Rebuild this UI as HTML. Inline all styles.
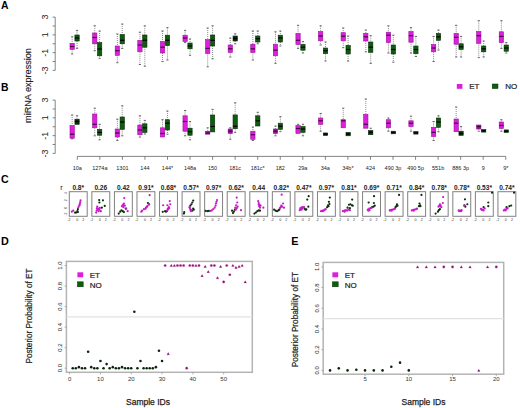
<!DOCTYPE html><html><head><meta charset="utf-8"><style>html,body{margin:0;padding:0;background:#fff;}svg{display:block;}body{overflow:hidden;width:520px;height:408px;}</style></head><body><svg width="520" height="408" viewBox="0 0 520 408" style="font-family:'Liberation Sans', sans-serif">
<rect width="520" height="408" fill="#fff"/>
<text x="0.9" y="8.95" font-size="10.4" font-weight="bold" fill="#000">A</text>
<text x="1.1" y="90.5" font-size="10.4" font-weight="bold" fill="#000">B</text>
<text x="1.0" y="182.8" font-size="10.6" font-weight="bold" fill="#000">C</text>
<text x="0.9" y="245.1" font-size="10.8" font-weight="bold" fill="#000">D</text>
<text x="291.2" y="245.1" font-size="10.8" font-weight="bold" fill="#000">E</text>
<text x="0" y="0" transform="translate(31,85.5) rotate(-90)" text-anchor="middle" font-size="9.1" fill="#222" stroke="#222" stroke-width="0.15">miRNA expression</text>
<line x1="55.2" y1="17.1" x2="55.2" y2="70.4" stroke="#666" stroke-width="0.8"/>
<line x1="52.6" y1="17.10" x2="55.2" y2="17.10" stroke="#666" stroke-width="0.8"/>
<line x1="52.6" y1="25.98" x2="55.2" y2="25.98" stroke="#666" stroke-width="0.8"/>
<line x1="52.6" y1="34.87" x2="55.2" y2="34.87" stroke="#666" stroke-width="0.8"/>
<line x1="52.6" y1="43.75" x2="55.2" y2="43.75" stroke="#666" stroke-width="0.8"/>
<line x1="52.6" y1="52.63" x2="55.2" y2="52.63" stroke="#666" stroke-width="0.8"/>
<line x1="52.6" y1="61.52" x2="55.2" y2="61.52" stroke="#666" stroke-width="0.8"/>
<line x1="52.6" y1="70.40" x2="55.2" y2="70.40" stroke="#666" stroke-width="0.8"/>
<text x="0" y="0" transform="translate(47.9,17.10) rotate(-90)" text-anchor="middle" font-size="9" fill="#222">3</text>
<text x="0" y="0" transform="translate(47.9,34.87) rotate(-90)" text-anchor="middle" font-size="9" fill="#222">1</text>
<text x="0" y="0" transform="translate(47.9,52.63) rotate(-90)" text-anchor="middle" font-size="9" fill="#222">-1</text>
<text x="0" y="0" transform="translate(47.9,70.40) rotate(-90)" text-anchor="middle" font-size="9" fill="#222">-3</text>
<line x1="55.2" y1="100.1" x2="55.2" y2="153.4" stroke="#666" stroke-width="0.8"/>
<line x1="52.6" y1="100.10" x2="55.2" y2="100.10" stroke="#666" stroke-width="0.8"/>
<line x1="52.6" y1="108.98" x2="55.2" y2="108.98" stroke="#666" stroke-width="0.8"/>
<line x1="52.6" y1="117.87" x2="55.2" y2="117.87" stroke="#666" stroke-width="0.8"/>
<line x1="52.6" y1="126.75" x2="55.2" y2="126.75" stroke="#666" stroke-width="0.8"/>
<line x1="52.6" y1="135.63" x2="55.2" y2="135.63" stroke="#666" stroke-width="0.8"/>
<line x1="52.6" y1="144.52" x2="55.2" y2="144.52" stroke="#666" stroke-width="0.8"/>
<line x1="52.6" y1="153.40" x2="55.2" y2="153.40" stroke="#666" stroke-width="0.8"/>
<text x="0" y="0" transform="translate(47.9,100.10) rotate(-90)" text-anchor="middle" font-size="9" fill="#222">3</text>
<text x="0" y="0" transform="translate(47.9,117.87) rotate(-90)" text-anchor="middle" font-size="9" fill="#222">1</text>
<text x="0" y="0" transform="translate(47.9,135.63) rotate(-90)" text-anchor="middle" font-size="9" fill="#222">-1</text>
<text x="0" y="0" transform="translate(47.9,153.40) rotate(-90)" text-anchor="middle" font-size="9" fill="#222">-3</text>
<line x1="72.15" y1="36.80" x2="72.15" y2="43.30" stroke="#5a5a5a" stroke-width="0.7" stroke-dasharray="1 1"/>
<line x1="71.05" y1="36.80" x2="73.25" y2="36.80" stroke="#5a5a5a" stroke-width="0.9"/>
<line x1="72.15" y1="49.50" x2="72.15" y2="54.00" stroke="#5a5a5a" stroke-width="0.7" stroke-dasharray="1 1"/>
<line x1="71.05" y1="54.00" x2="73.25" y2="54.00" stroke="#5a5a5a" stroke-width="0.9"/>
<rect x="70.00" y="43.30" width="4.30" height="6.20" fill="#DD1FDD" stroke="#9A139A" stroke-width="0.6"/>
<line x1="70.00" y1="46.50" x2="74.30" y2="46.50" stroke="#4a004a" stroke-width="1.2"/>
<line x1="77.05" y1="30.40" x2="77.05" y2="35.00" stroke="#5a5a5a" stroke-width="0.7" stroke-dasharray="1 1"/>
<line x1="75.95" y1="30.40" x2="78.15" y2="30.40" stroke="#5a5a5a" stroke-width="0.9"/>
<line x1="77.05" y1="41.00" x2="77.05" y2="48.40" stroke="#5a5a5a" stroke-width="0.7" stroke-dasharray="1 1"/>
<line x1="75.95" y1="48.40" x2="78.15" y2="48.40" stroke="#5a5a5a" stroke-width="0.9"/>
<rect x="74.90" y="35.00" width="4.30" height="6.00" fill="#0E5C0E" stroke="#0A2E0A" stroke-width="0.6"/>
<line x1="74.90" y1="38.00" x2="79.20" y2="38.00" stroke="#000" stroke-width="1.2"/>
<line x1="94.74" y1="25.80" x2="94.74" y2="33.00" stroke="#5a5a5a" stroke-width="0.7" stroke-dasharray="1 1"/>
<line x1="93.64" y1="25.80" x2="95.84" y2="25.80" stroke="#5a5a5a" stroke-width="0.9"/>
<line x1="94.74" y1="43.80" x2="94.74" y2="50.70" stroke="#5a5a5a" stroke-width="0.7" stroke-dasharray="1 1"/>
<line x1="93.64" y1="50.70" x2="95.84" y2="50.70" stroke="#5a5a5a" stroke-width="0.9"/>
<rect x="92.59" y="33.00" width="4.30" height="10.80" fill="#DD1FDD" stroke="#9A139A" stroke-width="0.6"/>
<line x1="92.59" y1="37.50" x2="96.89" y2="37.50" stroke="#4a004a" stroke-width="1.2"/>
<line x1="99.64" y1="31.00" x2="99.64" y2="42.60" stroke="#5a5a5a" stroke-width="0.7" stroke-dasharray="1 1"/>
<line x1="98.54" y1="31.00" x2="100.74" y2="31.00" stroke="#5a5a5a" stroke-width="0.9"/>
<line x1="99.64" y1="55.80" x2="99.64" y2="58.30" stroke="#5a5a5a" stroke-width="0.7" stroke-dasharray="1 1"/>
<line x1="98.54" y1="58.30" x2="100.74" y2="58.30" stroke="#5a5a5a" stroke-width="0.9"/>
<rect x="97.49" y="42.60" width="4.30" height="13.20" fill="#0E5C0E" stroke="#0A2E0A" stroke-width="0.6"/>
<line x1="97.49" y1="49.00" x2="101.79" y2="49.00" stroke="#000" stroke-width="1.2"/>
<line x1="117.33" y1="34.00" x2="117.33" y2="46.00" stroke="#5a5a5a" stroke-width="0.7" stroke-dasharray="1 1"/>
<line x1="116.23" y1="34.00" x2="118.43" y2="34.00" stroke="#5a5a5a" stroke-width="0.9"/>
<line x1="117.33" y1="55.30" x2="117.33" y2="62.70" stroke="#5a5a5a" stroke-width="0.7" stroke-dasharray="1 1"/>
<line x1="116.23" y1="62.70" x2="118.43" y2="62.70" stroke="#5a5a5a" stroke-width="0.9"/>
<rect x="115.18" y="46.00" width="4.30" height="9.30" fill="#DD1FDD" stroke="#9A139A" stroke-width="0.6"/>
<line x1="115.18" y1="50.70" x2="119.48" y2="50.70" stroke="#4a004a" stroke-width="1.2"/>
<line x1="122.23" y1="24.00" x2="122.23" y2="34.50" stroke="#5a5a5a" stroke-width="0.7" stroke-dasharray="1 1"/>
<line x1="121.13" y1="24.00" x2="123.33" y2="24.00" stroke="#5a5a5a" stroke-width="0.9"/>
<line x1="122.23" y1="43.80" x2="122.23" y2="48.40" stroke="#5a5a5a" stroke-width="0.7" stroke-dasharray="1 1"/>
<line x1="121.13" y1="48.40" x2="123.33" y2="48.40" stroke="#5a5a5a" stroke-width="0.9"/>
<rect x="120.08" y="34.50" width="4.30" height="9.30" fill="#0E5C0E" stroke="#0A2E0A" stroke-width="0.6"/>
<line x1="120.08" y1="40.30" x2="124.38" y2="40.30" stroke="#000" stroke-width="1.2"/>
<line x1="139.92" y1="32.20" x2="139.92" y2="40.30" stroke="#5a5a5a" stroke-width="0.7" stroke-dasharray="1 1"/>
<line x1="138.82" y1="32.20" x2="141.02" y2="32.20" stroke="#5a5a5a" stroke-width="0.9"/>
<line x1="139.92" y1="51.80" x2="139.92" y2="64.50" stroke="#5a5a5a" stroke-width="0.7" stroke-dasharray="1 1"/>
<line x1="138.82" y1="64.50" x2="141.02" y2="64.50" stroke="#5a5a5a" stroke-width="0.9"/>
<rect x="137.77" y="40.30" width="4.30" height="11.50" fill="#DD1FDD" stroke="#9A139A" stroke-width="0.6"/>
<line x1="137.77" y1="45.00" x2="142.07" y2="45.00" stroke="#4a004a" stroke-width="1.2"/>
<line x1="144.82" y1="25.80" x2="144.82" y2="35.00" stroke="#5a5a5a" stroke-width="0.7" stroke-dasharray="1 1"/>
<line x1="143.72" y1="25.80" x2="145.92" y2="25.80" stroke="#5a5a5a" stroke-width="0.9"/>
<line x1="144.82" y1="47.20" x2="144.82" y2="66.20" stroke="#5a5a5a" stroke-width="0.7" stroke-dasharray="1 1"/>
<line x1="143.72" y1="66.20" x2="145.92" y2="66.20" stroke="#5a5a5a" stroke-width="0.9"/>
<rect x="142.67" y="35.00" width="4.30" height="12.20" fill="#0E5C0E" stroke="#0A2E0A" stroke-width="0.6"/>
<line x1="142.67" y1="40.30" x2="146.97" y2="40.30" stroke="#000" stroke-width="1.2"/>
<line x1="162.51" y1="31.00" x2="162.51" y2="41.50" stroke="#5a5a5a" stroke-width="0.7" stroke-dasharray="1 1"/>
<line x1="161.41" y1="31.00" x2="163.61" y2="31.00" stroke="#5a5a5a" stroke-width="0.9"/>
<line x1="162.51" y1="53.00" x2="162.51" y2="61.50" stroke="#5a5a5a" stroke-width="0.7" stroke-dasharray="1 1"/>
<line x1="161.41" y1="61.50" x2="163.61" y2="61.50" stroke="#5a5a5a" stroke-width="0.9"/>
<rect x="160.36" y="41.50" width="4.30" height="11.50" fill="#DD1FDD" stroke="#9A139A" stroke-width="0.6"/>
<line x1="160.36" y1="47.20" x2="164.66" y2="47.20" stroke="#4a004a" stroke-width="1.2"/>
<line x1="167.41" y1="27.60" x2="167.41" y2="35.20" stroke="#5a5a5a" stroke-width="0.7" stroke-dasharray="1 1"/>
<line x1="166.31" y1="27.60" x2="168.51" y2="27.60" stroke="#5a5a5a" stroke-width="0.9"/>
<line x1="167.41" y1="45.60" x2="167.41" y2="60.00" stroke="#5a5a5a" stroke-width="0.7" stroke-dasharray="1 1"/>
<line x1="166.31" y1="60.00" x2="168.51" y2="60.00" stroke="#5a5a5a" stroke-width="0.9"/>
<rect x="165.26" y="35.20" width="4.30" height="10.40" fill="#0E5C0E" stroke="#0A2E0A" stroke-width="0.6"/>
<line x1="165.26" y1="40.30" x2="169.56" y2="40.30" stroke="#000" stroke-width="1.2"/>
<line x1="185.10" y1="30.40" x2="185.10" y2="35.20" stroke="#5a5a5a" stroke-width="0.7" stroke-dasharray="1 1"/>
<line x1="184.00" y1="30.40" x2="186.20" y2="30.40" stroke="#5a5a5a" stroke-width="0.9"/>
<line x1="185.10" y1="41.50" x2="185.10" y2="42.60" stroke="#5a5a5a" stroke-width="0.7" stroke-dasharray="1 1"/>
<line x1="184.00" y1="42.60" x2="186.20" y2="42.60" stroke="#5a5a5a" stroke-width="0.9"/>
<rect x="182.95" y="35.20" width="4.30" height="6.30" fill="#DD1FDD" stroke="#9A139A" stroke-width="0.6"/>
<line x1="182.95" y1="38.00" x2="187.25" y2="38.00" stroke="#4a004a" stroke-width="1.2"/>
<line x1="190.00" y1="39.00" x2="190.00" y2="43.00" stroke="#5a5a5a" stroke-width="0.7" stroke-dasharray="1 1"/>
<line x1="188.90" y1="39.00" x2="191.10" y2="39.00" stroke="#5a5a5a" stroke-width="0.9"/>
<line x1="190.00" y1="48.80" x2="190.00" y2="55.30" stroke="#5a5a5a" stroke-width="0.7" stroke-dasharray="1 1"/>
<line x1="188.90" y1="55.30" x2="191.10" y2="55.30" stroke="#5a5a5a" stroke-width="0.9"/>
<rect x="187.85" y="43.00" width="4.30" height="5.80" fill="#0E5C0E" stroke="#0A2E0A" stroke-width="0.6"/>
<line x1="187.85" y1="46.00" x2="192.15" y2="46.00" stroke="#000" stroke-width="1.2"/>
<line x1="207.69" y1="28.00" x2="207.69" y2="39.60" stroke="#5a5a5a" stroke-width="0.7" stroke-dasharray="1 1"/>
<line x1="206.59" y1="28.00" x2="208.79" y2="28.00" stroke="#5a5a5a" stroke-width="0.9"/>
<line x1="207.69" y1="53.50" x2="207.69" y2="66.80" stroke="#5a5a5a" stroke-width="0.7" stroke-dasharray="1 1"/>
<line x1="206.59" y1="66.80" x2="208.79" y2="66.80" stroke="#5a5a5a" stroke-width="0.9"/>
<rect x="205.54" y="39.60" width="4.30" height="13.90" fill="#DD1FDD" stroke="#9A139A" stroke-width="0.6"/>
<line x1="205.54" y1="48.40" x2="209.84" y2="48.40" stroke="#4a004a" stroke-width="1.2"/>
<line x1="212.59" y1="25.80" x2="212.59" y2="35.00" stroke="#5a5a5a" stroke-width="0.7" stroke-dasharray="1 1"/>
<line x1="211.49" y1="25.80" x2="213.69" y2="25.80" stroke="#5a5a5a" stroke-width="0.9"/>
<line x1="212.59" y1="46.00" x2="212.59" y2="58.80" stroke="#5a5a5a" stroke-width="0.7" stroke-dasharray="1 1"/>
<line x1="211.49" y1="58.80" x2="213.69" y2="58.80" stroke="#5a5a5a" stroke-width="0.9"/>
<rect x="210.44" y="35.00" width="4.30" height="11.00" fill="#0E5C0E" stroke="#0A2E0A" stroke-width="0.6"/>
<line x1="210.44" y1="40.30" x2="214.74" y2="40.30" stroke="#000" stroke-width="1.2"/>
<line x1="230.28" y1="38.00" x2="230.28" y2="45.00" stroke="#5a5a5a" stroke-width="0.7" stroke-dasharray="1 1"/>
<line x1="229.18" y1="38.00" x2="231.38" y2="38.00" stroke="#5a5a5a" stroke-width="0.9"/>
<line x1="230.28" y1="52.50" x2="230.28" y2="57.00" stroke="#5a5a5a" stroke-width="0.7" stroke-dasharray="1 1"/>
<line x1="229.18" y1="57.00" x2="231.38" y2="57.00" stroke="#5a5a5a" stroke-width="0.9"/>
<rect x="228.13" y="45.00" width="4.30" height="7.50" fill="#DD1FDD" stroke="#9A139A" stroke-width="0.6"/>
<line x1="228.13" y1="48.80" x2="232.43" y2="48.80" stroke="#4a004a" stroke-width="1.2"/>
<line x1="235.18" y1="33.80" x2="235.18" y2="36.00" stroke="#5a5a5a" stroke-width="0.7" stroke-dasharray="1 1"/>
<line x1="234.08" y1="33.80" x2="236.28" y2="33.80" stroke="#5a5a5a" stroke-width="0.9"/>
<line x1="235.18" y1="41.00" x2="235.18" y2="43.80" stroke="#5a5a5a" stroke-width="0.7" stroke-dasharray="1 1"/>
<line x1="234.08" y1="43.80" x2="236.28" y2="43.80" stroke="#5a5a5a" stroke-width="0.9"/>
<rect x="233.03" y="36.00" width="4.30" height="5.00" fill="#0A2E0A" stroke="#0A2E0A" stroke-width="0.6"/>
<line x1="233.03" y1="38.50" x2="237.33" y2="38.50" stroke="#000" stroke-width="1.2"/>
<line x1="252.87" y1="31.00" x2="252.87" y2="44.20" stroke="#5a5a5a" stroke-width="0.7" stroke-dasharray="1 1"/>
<line x1="251.77" y1="31.00" x2="253.97" y2="31.00" stroke="#5a5a5a" stroke-width="0.9"/>
<line x1="252.87" y1="52.50" x2="252.87" y2="60.00" stroke="#5a5a5a" stroke-width="0.7" stroke-dasharray="1 1"/>
<line x1="251.77" y1="60.00" x2="253.97" y2="60.00" stroke="#5a5a5a" stroke-width="0.9"/>
<rect x="250.72" y="44.20" width="4.30" height="8.30" fill="#DD1FDD" stroke="#9A139A" stroke-width="0.6"/>
<line x1="250.72" y1="48.80" x2="255.02" y2="48.80" stroke="#4a004a" stroke-width="1.2"/>
<line x1="257.77" y1="31.00" x2="257.77" y2="36.00" stroke="#5a5a5a" stroke-width="0.7" stroke-dasharray="1 1"/>
<line x1="256.67" y1="31.00" x2="258.87" y2="31.00" stroke="#5a5a5a" stroke-width="0.9"/>
<line x1="257.77" y1="42.00" x2="257.77" y2="43.80" stroke="#5a5a5a" stroke-width="0.7" stroke-dasharray="1 1"/>
<line x1="256.67" y1="43.80" x2="258.87" y2="43.80" stroke="#5a5a5a" stroke-width="0.9"/>
<rect x="255.62" y="36.00" width="4.30" height="6.00" fill="#0E5C0E" stroke="#0A2E0A" stroke-width="0.6"/>
<line x1="255.62" y1="38.70" x2="259.92" y2="38.70" stroke="#000" stroke-width="1.2"/>
<line x1="275.46" y1="31.80" x2="275.46" y2="44.20" stroke="#5a5a5a" stroke-width="0.7" stroke-dasharray="1 1"/>
<line x1="274.36" y1="31.80" x2="276.56" y2="31.80" stroke="#5a5a5a" stroke-width="0.9"/>
<line x1="275.46" y1="55.80" x2="275.46" y2="63.40" stroke="#5a5a5a" stroke-width="0.7" stroke-dasharray="1 1"/>
<line x1="274.36" y1="63.40" x2="276.56" y2="63.40" stroke="#5a5a5a" stroke-width="0.9"/>
<rect x="273.31" y="44.20" width="4.30" height="11.60" fill="#DD1FDD" stroke="#9A139A" stroke-width="0.6"/>
<line x1="273.31" y1="50.20" x2="277.61" y2="50.20" stroke="#4a004a" stroke-width="1.2"/>
<line x1="280.36" y1="31.00" x2="280.36" y2="35.20" stroke="#5a5a5a" stroke-width="0.7" stroke-dasharray="1 1"/>
<line x1="279.26" y1="31.00" x2="281.46" y2="31.00" stroke="#5a5a5a" stroke-width="0.9"/>
<line x1="280.36" y1="42.00" x2="280.36" y2="46.00" stroke="#5a5a5a" stroke-width="0.7" stroke-dasharray="1 1"/>
<line x1="279.26" y1="46.00" x2="281.46" y2="46.00" stroke="#5a5a5a" stroke-width="0.9"/>
<rect x="278.21" y="35.20" width="4.30" height="6.80" fill="#0E5C0E" stroke="#0A2E0A" stroke-width="0.6"/>
<line x1="278.21" y1="38.00" x2="282.51" y2="38.00" stroke="#000" stroke-width="1.2"/>
<line x1="298.05" y1="25.30" x2="298.05" y2="33.40" stroke="#5a5a5a" stroke-width="0.7" stroke-dasharray="1 1"/>
<line x1="296.95" y1="25.30" x2="299.15" y2="25.30" stroke="#5a5a5a" stroke-width="0.9"/>
<line x1="298.05" y1="44.50" x2="298.05" y2="48.40" stroke="#5a5a5a" stroke-width="0.7" stroke-dasharray="1 1"/>
<line x1="296.95" y1="48.40" x2="299.15" y2="48.40" stroke="#5a5a5a" stroke-width="0.9"/>
<rect x="295.90" y="33.40" width="4.30" height="11.10" fill="#DD1FDD" stroke="#9A139A" stroke-width="0.6"/>
<line x1="295.90" y1="40.30" x2="300.20" y2="40.30" stroke="#4a004a" stroke-width="1.2"/>
<line x1="302.95" y1="41.50" x2="302.95" y2="44.50" stroke="#5a5a5a" stroke-width="0.7" stroke-dasharray="1 1"/>
<line x1="301.85" y1="41.50" x2="304.05" y2="41.50" stroke="#5a5a5a" stroke-width="0.9"/>
<line x1="302.95" y1="50.20" x2="302.95" y2="53.00" stroke="#5a5a5a" stroke-width="0.7" stroke-dasharray="1 1"/>
<line x1="301.85" y1="53.00" x2="304.05" y2="53.00" stroke="#5a5a5a" stroke-width="0.9"/>
<rect x="300.80" y="44.50" width="4.30" height="5.70" fill="#0E5C0E" stroke="#0A2E0A" stroke-width="0.6"/>
<line x1="300.80" y1="47.20" x2="305.10" y2="47.20" stroke="#000" stroke-width="1.2"/>
<line x1="320.64" y1="25.80" x2="320.64" y2="31.50" stroke="#5a5a5a" stroke-width="0.7" stroke-dasharray="1 1"/>
<line x1="319.54" y1="25.80" x2="321.74" y2="25.80" stroke="#5a5a5a" stroke-width="0.9"/>
<line x1="320.64" y1="40.80" x2="320.64" y2="45.00" stroke="#5a5a5a" stroke-width="0.7" stroke-dasharray="1 1"/>
<line x1="319.54" y1="45.00" x2="321.74" y2="45.00" stroke="#5a5a5a" stroke-width="0.9"/>
<rect x="318.49" y="31.50" width="4.30" height="9.30" fill="#DD1FDD" stroke="#9A139A" stroke-width="0.6"/>
<line x1="318.49" y1="36.00" x2="322.79" y2="36.00" stroke="#4a004a" stroke-width="1.2"/>
<line x1="325.54" y1="42.00" x2="325.54" y2="48.00" stroke="#5a5a5a" stroke-width="0.7" stroke-dasharray="1 1"/>
<line x1="324.44" y1="42.00" x2="326.64" y2="42.00" stroke="#5a5a5a" stroke-width="0.9"/>
<line x1="325.54" y1="53.70" x2="325.54" y2="61.00" stroke="#5a5a5a" stroke-width="0.7" stroke-dasharray="1 1"/>
<line x1="324.44" y1="61.00" x2="326.64" y2="61.00" stroke="#5a5a5a" stroke-width="0.9"/>
<rect x="323.39" y="48.00" width="4.30" height="5.70" fill="#0E5C0E" stroke="#0A2E0A" stroke-width="0.6"/>
<line x1="323.39" y1="50.70" x2="327.69" y2="50.70" stroke="#000" stroke-width="1.2"/>
<line x1="343.23" y1="28.00" x2="343.23" y2="32.70" stroke="#5a5a5a" stroke-width="0.7" stroke-dasharray="1 1"/>
<line x1="342.13" y1="28.00" x2="344.33" y2="28.00" stroke="#5a5a5a" stroke-width="0.9"/>
<line x1="343.23" y1="40.80" x2="343.23" y2="47.70" stroke="#5a5a5a" stroke-width="0.7" stroke-dasharray="1 1"/>
<line x1="342.13" y1="47.70" x2="344.33" y2="47.70" stroke="#5a5a5a" stroke-width="0.9"/>
<rect x="341.08" y="32.70" width="4.30" height="8.10" fill="#DD1FDD" stroke="#9A139A" stroke-width="0.6"/>
<line x1="341.08" y1="36.20" x2="345.38" y2="36.20" stroke="#4a004a" stroke-width="1.2"/>
<line x1="348.13" y1="36.00" x2="348.13" y2="45.40" stroke="#5a5a5a" stroke-width="0.7" stroke-dasharray="1 1"/>
<line x1="347.03" y1="36.00" x2="349.23" y2="36.00" stroke="#5a5a5a" stroke-width="0.9"/>
<line x1="348.13" y1="54.00" x2="348.13" y2="61.00" stroke="#5a5a5a" stroke-width="0.7" stroke-dasharray="1 1"/>
<line x1="347.03" y1="61.00" x2="349.23" y2="61.00" stroke="#5a5a5a" stroke-width="0.9"/>
<rect x="345.98" y="45.40" width="4.30" height="8.60" fill="#0E5C0E" stroke="#0A2E0A" stroke-width="0.6"/>
<line x1="345.98" y1="49.50" x2="350.28" y2="49.50" stroke="#000" stroke-width="1.2"/>
<line x1="365.82" y1="30.00" x2="365.82" y2="33.40" stroke="#5a5a5a" stroke-width="0.7" stroke-dasharray="1 1"/>
<line x1="364.72" y1="30.00" x2="366.92" y2="30.00" stroke="#5a5a5a" stroke-width="0.9"/>
<line x1="365.82" y1="41.00" x2="365.82" y2="51.80" stroke="#5a5a5a" stroke-width="0.7" stroke-dasharray="1 1"/>
<line x1="364.72" y1="51.80" x2="366.92" y2="51.80" stroke="#5a5a5a" stroke-width="0.9"/>
<rect x="363.67" y="33.40" width="4.30" height="7.60" fill="#DD1FDD" stroke="#9A139A" stroke-width="0.6"/>
<line x1="363.67" y1="36.80" x2="367.97" y2="36.80" stroke="#4a004a" stroke-width="1.2"/>
<line x1="370.72" y1="35.70" x2="370.72" y2="42.00" stroke="#5a5a5a" stroke-width="0.7" stroke-dasharray="1 1"/>
<line x1="369.62" y1="35.70" x2="371.82" y2="35.70" stroke="#5a5a5a" stroke-width="0.9"/>
<line x1="370.72" y1="52.30" x2="370.72" y2="63.40" stroke="#5a5a5a" stroke-width="0.7" stroke-dasharray="1 1"/>
<line x1="369.62" y1="63.40" x2="371.82" y2="63.40" stroke="#5a5a5a" stroke-width="0.9"/>
<rect x="368.57" y="42.00" width="4.30" height="10.30" fill="#0E5C0E" stroke="#0A2E0A" stroke-width="0.6"/>
<line x1="368.57" y1="47.20" x2="372.87" y2="47.20" stroke="#000" stroke-width="1.2"/>
<line x1="388.41" y1="25.80" x2="388.41" y2="32.20" stroke="#5a5a5a" stroke-width="0.7" stroke-dasharray="1 1"/>
<line x1="387.31" y1="25.80" x2="389.51" y2="25.80" stroke="#5a5a5a" stroke-width="0.9"/>
<line x1="388.41" y1="42.60" x2="388.41" y2="53.00" stroke="#5a5a5a" stroke-width="0.7" stroke-dasharray="1 1"/>
<line x1="387.31" y1="53.00" x2="389.51" y2="53.00" stroke="#5a5a5a" stroke-width="0.9"/>
<rect x="386.26" y="32.20" width="4.30" height="10.40" fill="#DD1FDD" stroke="#9A139A" stroke-width="0.6"/>
<line x1="386.26" y1="35.20" x2="390.56" y2="35.20" stroke="#4a004a" stroke-width="1.2"/>
<line x1="393.31" y1="35.20" x2="393.31" y2="45.00" stroke="#5a5a5a" stroke-width="0.7" stroke-dasharray="1 1"/>
<line x1="392.21" y1="35.20" x2="394.41" y2="35.20" stroke="#5a5a5a" stroke-width="0.9"/>
<line x1="393.31" y1="54.00" x2="393.31" y2="62.20" stroke="#5a5a5a" stroke-width="0.7" stroke-dasharray="1 1"/>
<line x1="392.21" y1="62.20" x2="394.41" y2="62.20" stroke="#5a5a5a" stroke-width="0.9"/>
<rect x="391.16" y="45.00" width="4.30" height="9.00" fill="#0E5C0E" stroke="#0A2E0A" stroke-width="0.6"/>
<line x1="391.16" y1="49.50" x2="395.46" y2="49.50" stroke="#000" stroke-width="1.2"/>
<line x1="411.00" y1="27.60" x2="411.00" y2="31.50" stroke="#5a5a5a" stroke-width="0.7" stroke-dasharray="1 1"/>
<line x1="409.90" y1="27.60" x2="412.10" y2="27.60" stroke="#5a5a5a" stroke-width="0.9"/>
<line x1="411.00" y1="42.20" x2="411.00" y2="53.00" stroke="#5a5a5a" stroke-width="0.7" stroke-dasharray="1 1"/>
<line x1="409.90" y1="53.00" x2="412.10" y2="53.00" stroke="#5a5a5a" stroke-width="0.9"/>
<rect x="408.85" y="31.50" width="4.30" height="10.70" fill="#DD1FDD" stroke="#9A139A" stroke-width="0.6"/>
<line x1="408.85" y1="35.70" x2="413.15" y2="35.70" stroke="#4a004a" stroke-width="1.2"/>
<line x1="415.90" y1="36.40" x2="415.90" y2="46.00" stroke="#5a5a5a" stroke-width="0.7" stroke-dasharray="1 1"/>
<line x1="414.80" y1="36.40" x2="417.00" y2="36.40" stroke="#5a5a5a" stroke-width="0.9"/>
<line x1="415.90" y1="53.70" x2="415.90" y2="56.50" stroke="#5a5a5a" stroke-width="0.7" stroke-dasharray="1 1"/>
<line x1="414.80" y1="56.50" x2="417.00" y2="56.50" stroke="#5a5a5a" stroke-width="0.9"/>
<rect x="413.75" y="46.00" width="4.30" height="7.70" fill="#0E5C0E" stroke="#0A2E0A" stroke-width="0.6"/>
<line x1="413.75" y1="49.50" x2="418.05" y2="49.50" stroke="#000" stroke-width="1.2"/>
<line x1="433.59" y1="36.40" x2="433.59" y2="44.50" stroke="#5a5a5a" stroke-width="0.7" stroke-dasharray="1 1"/>
<line x1="432.49" y1="36.40" x2="434.69" y2="36.40" stroke="#5a5a5a" stroke-width="0.9"/>
<line x1="433.59" y1="51.80" x2="433.59" y2="61.50" stroke="#5a5a5a" stroke-width="0.7" stroke-dasharray="1 1"/>
<line x1="432.49" y1="61.50" x2="434.69" y2="61.50" stroke="#5a5a5a" stroke-width="0.9"/>
<rect x="431.44" y="44.50" width="4.30" height="7.30" fill="#DD1FDD" stroke="#9A139A" stroke-width="0.6"/>
<line x1="431.44" y1="48.00" x2="435.74" y2="48.00" stroke="#4a004a" stroke-width="1.2"/>
<line x1="438.49" y1="30.00" x2="438.49" y2="33.40" stroke="#5a5a5a" stroke-width="0.7" stroke-dasharray="1 1"/>
<line x1="437.39" y1="30.00" x2="439.59" y2="30.00" stroke="#5a5a5a" stroke-width="0.9"/>
<line x1="438.49" y1="40.30" x2="438.49" y2="50.00" stroke="#5a5a5a" stroke-width="0.7" stroke-dasharray="1 1"/>
<line x1="437.39" y1="50.00" x2="439.59" y2="50.00" stroke="#5a5a5a" stroke-width="0.9"/>
<rect x="436.34" y="33.40" width="4.30" height="6.90" fill="#0E5C0E" stroke="#0A2E0A" stroke-width="0.6"/>
<line x1="436.34" y1="36.80" x2="440.64" y2="36.80" stroke="#000" stroke-width="1.2"/>
<line x1="456.18" y1="25.30" x2="456.18" y2="33.40" stroke="#5a5a5a" stroke-width="0.7" stroke-dasharray="1 1"/>
<line x1="455.08" y1="25.30" x2="457.28" y2="25.30" stroke="#5a5a5a" stroke-width="0.9"/>
<line x1="456.18" y1="44.20" x2="456.18" y2="57.00" stroke="#5a5a5a" stroke-width="0.7" stroke-dasharray="1 1"/>
<line x1="455.08" y1="57.00" x2="457.28" y2="57.00" stroke="#5a5a5a" stroke-width="0.9"/>
<rect x="454.03" y="33.40" width="4.30" height="10.80" fill="#DD1FDD" stroke="#9A139A" stroke-width="0.6"/>
<line x1="454.03" y1="37.30" x2="458.33" y2="37.30" stroke="#4a004a" stroke-width="1.2"/>
<line x1="461.08" y1="36.40" x2="461.08" y2="43.80" stroke="#5a5a5a" stroke-width="0.7" stroke-dasharray="1 1"/>
<line x1="459.98" y1="36.40" x2="462.18" y2="36.40" stroke="#5a5a5a" stroke-width="0.9"/>
<line x1="461.08" y1="49.50" x2="461.08" y2="57.00" stroke="#5a5a5a" stroke-width="0.7" stroke-dasharray="1 1"/>
<line x1="459.98" y1="57.00" x2="462.18" y2="57.00" stroke="#5a5a5a" stroke-width="0.9"/>
<rect x="458.93" y="43.80" width="4.30" height="5.70" fill="#0E5C0E" stroke="#0A2E0A" stroke-width="0.6"/>
<line x1="458.93" y1="46.80" x2="463.23" y2="46.80" stroke="#000" stroke-width="1.2"/>
<line x1="478.77" y1="20.70" x2="478.77" y2="31.50" stroke="#5a5a5a" stroke-width="0.7" stroke-dasharray="1 1"/>
<line x1="477.67" y1="20.70" x2="479.87" y2="20.70" stroke="#5a5a5a" stroke-width="0.9"/>
<line x1="478.77" y1="43.30" x2="478.77" y2="57.60" stroke="#5a5a5a" stroke-width="0.7" stroke-dasharray="1 1"/>
<line x1="477.67" y1="57.60" x2="479.87" y2="57.60" stroke="#5a5a5a" stroke-width="0.9"/>
<rect x="476.62" y="31.50" width="4.30" height="11.80" fill="#DD1FDD" stroke="#9A139A" stroke-width="0.6"/>
<line x1="476.62" y1="35.70" x2="480.92" y2="35.70" stroke="#4a004a" stroke-width="1.2"/>
<line x1="483.67" y1="41.00" x2="483.67" y2="46.00" stroke="#5a5a5a" stroke-width="0.7" stroke-dasharray="1 1"/>
<line x1="482.57" y1="41.00" x2="484.77" y2="41.00" stroke="#5a5a5a" stroke-width="0.9"/>
<line x1="483.67" y1="51.80" x2="483.67" y2="57.00" stroke="#5a5a5a" stroke-width="0.7" stroke-dasharray="1 1"/>
<line x1="482.57" y1="57.00" x2="484.77" y2="57.00" stroke="#5a5a5a" stroke-width="0.9"/>
<rect x="481.52" y="46.00" width="4.30" height="5.80" fill="#0E5C0E" stroke="#0A2E0A" stroke-width="0.6"/>
<line x1="481.52" y1="48.80" x2="485.82" y2="48.80" stroke="#000" stroke-width="1.2"/>
<line x1="501.36" y1="20.70" x2="501.36" y2="31.80" stroke="#5a5a5a" stroke-width="0.7" stroke-dasharray="1 1"/>
<line x1="500.26" y1="20.70" x2="502.46" y2="20.70" stroke="#5a5a5a" stroke-width="0.9"/>
<line x1="501.36" y1="42.60" x2="501.36" y2="48.40" stroke="#5a5a5a" stroke-width="0.7" stroke-dasharray="1 1"/>
<line x1="500.26" y1="48.40" x2="502.46" y2="48.40" stroke="#5a5a5a" stroke-width="0.9"/>
<rect x="499.21" y="31.80" width="4.30" height="10.80" fill="#DD1FDD" stroke="#9A139A" stroke-width="0.6"/>
<line x1="499.21" y1="36.40" x2="503.51" y2="36.40" stroke="#4a004a" stroke-width="1.2"/>
<line x1="506.26" y1="42.60" x2="506.26" y2="45.00" stroke="#5a5a5a" stroke-width="0.7" stroke-dasharray="1 1"/>
<line x1="505.16" y1="42.60" x2="507.36" y2="42.60" stroke="#5a5a5a" stroke-width="0.9"/>
<line x1="506.26" y1="51.20" x2="506.26" y2="53.00" stroke="#5a5a5a" stroke-width="0.7" stroke-dasharray="1 1"/>
<line x1="505.16" y1="53.00" x2="507.36" y2="53.00" stroke="#5a5a5a" stroke-width="0.9"/>
<rect x="504.11" y="45.00" width="4.30" height="6.20" fill="#0E5C0E" stroke="#0A2E0A" stroke-width="0.6"/>
<line x1="504.11" y1="48.00" x2="508.41" y2="48.00" stroke="#000" stroke-width="1.2"/>
<line x1="72.15" y1="115.00" x2="72.15" y2="125.50" stroke="#5a5a5a" stroke-width="0.7" stroke-dasharray="1 1"/>
<line x1="71.05" y1="115.00" x2="73.25" y2="115.00" stroke="#5a5a5a" stroke-width="0.9"/>
<line x1="72.15" y1="138.20" x2="72.15" y2="138.80" stroke="#5a5a5a" stroke-width="0.7" stroke-dasharray="1 1"/>
<line x1="71.05" y1="138.80" x2="73.25" y2="138.80" stroke="#5a5a5a" stroke-width="0.9"/>
<rect x="70.00" y="125.50" width="4.30" height="12.70" fill="#DD1FDD" stroke="#9A139A" stroke-width="0.6"/>
<line x1="70.00" y1="134.20" x2="74.30" y2="134.20" stroke="#4a004a" stroke-width="1.2"/>
<line x1="77.05" y1="115.80" x2="77.05" y2="119.20" stroke="#5a5a5a" stroke-width="0.7" stroke-dasharray="1 1"/>
<line x1="75.95" y1="115.80" x2="78.15" y2="115.80" stroke="#5a5a5a" stroke-width="0.9"/>
<rect x="74.90" y="119.20" width="4.30" height="5.10" fill="#0A2E0A" stroke="#0A2E0A" stroke-width="0.6"/>
<line x1="74.90" y1="121.50" x2="79.20" y2="121.50" stroke="#000" stroke-width="1.2"/>
<line x1="94.74" y1="108.20" x2="94.74" y2="114.00" stroke="#5a5a5a" stroke-width="0.7" stroke-dasharray="1 1"/>
<line x1="93.64" y1="108.20" x2="95.84" y2="108.20" stroke="#5a5a5a" stroke-width="0.9"/>
<line x1="94.74" y1="127.80" x2="94.74" y2="135.80" stroke="#5a5a5a" stroke-width="0.7" stroke-dasharray="1 1"/>
<line x1="93.64" y1="135.80" x2="95.84" y2="135.80" stroke="#5a5a5a" stroke-width="0.9"/>
<rect x="92.59" y="114.00" width="4.30" height="13.80" fill="#DD1FDD" stroke="#9A139A" stroke-width="0.6"/>
<line x1="92.59" y1="124.30" x2="96.89" y2="124.30" stroke="#4a004a" stroke-width="1.2"/>
<line x1="99.64" y1="124.30" x2="99.64" y2="129.40" stroke="#5a5a5a" stroke-width="0.7" stroke-dasharray="1 1"/>
<line x1="98.54" y1="124.30" x2="100.74" y2="124.30" stroke="#5a5a5a" stroke-width="0.9"/>
<line x1="99.64" y1="135.20" x2="99.64" y2="139.80" stroke="#5a5a5a" stroke-width="0.7" stroke-dasharray="1 1"/>
<line x1="98.54" y1="139.80" x2="100.74" y2="139.80" stroke="#5a5a5a" stroke-width="0.9"/>
<rect x="97.49" y="129.40" width="4.30" height="5.80" fill="#0E5C0E" stroke="#0A2E0A" stroke-width="0.6"/>
<line x1="97.49" y1="132.40" x2="101.79" y2="132.40" stroke="#000" stroke-width="1.2"/>
<line x1="117.33" y1="119.20" x2="117.33" y2="129.00" stroke="#5a5a5a" stroke-width="0.7" stroke-dasharray="1 1"/>
<line x1="116.23" y1="119.20" x2="118.43" y2="119.20" stroke="#5a5a5a" stroke-width="0.9"/>
<line x1="117.33" y1="137.00" x2="117.33" y2="140.50" stroke="#5a5a5a" stroke-width="0.7" stroke-dasharray="1 1"/>
<line x1="116.23" y1="140.50" x2="118.43" y2="140.50" stroke="#5a5a5a" stroke-width="0.9"/>
<rect x="115.18" y="129.00" width="4.30" height="8.00" fill="#DD1FDD" stroke="#9A139A" stroke-width="0.6"/>
<line x1="115.18" y1="133.00" x2="119.48" y2="133.00" stroke="#4a004a" stroke-width="1.2"/>
<line x1="122.23" y1="105.80" x2="122.23" y2="117.00" stroke="#5a5a5a" stroke-width="0.7" stroke-dasharray="1 1"/>
<line x1="121.13" y1="105.80" x2="123.33" y2="105.80" stroke="#5a5a5a" stroke-width="0.9"/>
<line x1="122.23" y1="129.40" x2="122.23" y2="135.80" stroke="#5a5a5a" stroke-width="0.7" stroke-dasharray="1 1"/>
<line x1="121.13" y1="135.80" x2="123.33" y2="135.80" stroke="#5a5a5a" stroke-width="0.9"/>
<rect x="120.08" y="117.00" width="4.30" height="12.40" fill="#0E5C0E" stroke="#0A2E0A" stroke-width="0.6"/>
<line x1="120.08" y1="122.00" x2="124.38" y2="122.00" stroke="#000" stroke-width="1.2"/>
<line x1="139.92" y1="115.80" x2="139.92" y2="125.00" stroke="#5a5a5a" stroke-width="0.7" stroke-dasharray="1 1"/>
<line x1="138.82" y1="115.80" x2="141.02" y2="115.80" stroke="#5a5a5a" stroke-width="0.9"/>
<line x1="139.92" y1="134.70" x2="139.92" y2="137.00" stroke="#5a5a5a" stroke-width="0.7" stroke-dasharray="1 1"/>
<line x1="138.82" y1="137.00" x2="141.02" y2="137.00" stroke="#5a5a5a" stroke-width="0.9"/>
<rect x="137.77" y="125.00" width="4.30" height="9.70" fill="#DD1FDD" stroke="#9A139A" stroke-width="0.6"/>
<line x1="137.77" y1="130.00" x2="142.07" y2="130.00" stroke="#4a004a" stroke-width="1.2"/>
<line x1="144.82" y1="120.40" x2="144.82" y2="123.80" stroke="#5a5a5a" stroke-width="0.7" stroke-dasharray="1 1"/>
<line x1="143.72" y1="120.40" x2="145.92" y2="120.40" stroke="#5a5a5a" stroke-width="0.9"/>
<line x1="144.82" y1="132.40" x2="144.82" y2="134.00" stroke="#5a5a5a" stroke-width="0.7" stroke-dasharray="1 1"/>
<line x1="143.72" y1="134.00" x2="145.92" y2="134.00" stroke="#5a5a5a" stroke-width="0.9"/>
<rect x="142.67" y="123.80" width="4.30" height="8.60" fill="#0E5C0E" stroke="#0A2E0A" stroke-width="0.6"/>
<line x1="142.67" y1="127.80" x2="146.97" y2="127.80" stroke="#000" stroke-width="1.2"/>
<line x1="162.51" y1="119.70" x2="162.51" y2="127.80" stroke="#5a5a5a" stroke-width="0.7" stroke-dasharray="1 1"/>
<line x1="161.41" y1="119.70" x2="163.61" y2="119.70" stroke="#5a5a5a" stroke-width="0.9"/>
<rect x="160.36" y="127.80" width="4.30" height="9.20" fill="#DD1FDD" stroke="#9A139A" stroke-width="0.6"/>
<line x1="160.36" y1="133.50" x2="164.66" y2="133.50" stroke="#4a004a" stroke-width="1.2"/>
<line x1="167.41" y1="111.00" x2="167.41" y2="119.70" stroke="#5a5a5a" stroke-width="0.7" stroke-dasharray="1 1"/>
<line x1="166.31" y1="111.00" x2="168.51" y2="111.00" stroke="#5a5a5a" stroke-width="0.9"/>
<line x1="167.41" y1="130.00" x2="167.41" y2="134.20" stroke="#5a5a5a" stroke-width="0.7" stroke-dasharray="1 1"/>
<line x1="166.31" y1="134.20" x2="168.51" y2="134.20" stroke="#5a5a5a" stroke-width="0.9"/>
<rect x="165.26" y="119.70" width="4.30" height="10.30" fill="#0E5C0E" stroke="#0A2E0A" stroke-width="0.6"/>
<line x1="165.26" y1="123.20" x2="169.56" y2="123.20" stroke="#000" stroke-width="1.2"/>
<line x1="185.10" y1="110.50" x2="185.10" y2="115.80" stroke="#5a5a5a" stroke-width="0.7" stroke-dasharray="1 1"/>
<line x1="184.00" y1="110.50" x2="186.20" y2="110.50" stroke="#5a5a5a" stroke-width="0.9"/>
<line x1="185.10" y1="131.20" x2="185.10" y2="135.80" stroke="#5a5a5a" stroke-width="0.7" stroke-dasharray="1 1"/>
<line x1="184.00" y1="135.80" x2="186.20" y2="135.80" stroke="#5a5a5a" stroke-width="0.9"/>
<rect x="182.95" y="115.80" width="4.30" height="15.40" fill="#DD1FDD" stroke="#9A139A" stroke-width="0.6"/>
<line x1="182.95" y1="121.50" x2="187.25" y2="121.50" stroke="#4a004a" stroke-width="1.2"/>
<line x1="190.00" y1="121.50" x2="190.00" y2="128.20" stroke="#5a5a5a" stroke-width="0.7" stroke-dasharray="1 1"/>
<line x1="188.90" y1="121.50" x2="191.10" y2="121.50" stroke="#5a5a5a" stroke-width="0.9"/>
<line x1="190.00" y1="135.20" x2="190.00" y2="139.80" stroke="#5a5a5a" stroke-width="0.7" stroke-dasharray="1 1"/>
<line x1="188.90" y1="139.80" x2="191.10" y2="139.80" stroke="#5a5a5a" stroke-width="0.9"/>
<rect x="187.85" y="128.20" width="4.30" height="7.00" fill="#0E5C0E" stroke="#0A2E0A" stroke-width="0.6"/>
<line x1="187.85" y1="131.70" x2="192.15" y2="131.70" stroke="#000" stroke-width="1.2"/>
<line x1="207.69" y1="127.80" x2="207.69" y2="131.20" stroke="#5a5a5a" stroke-width="0.7" stroke-dasharray="1 1"/>
<line x1="206.59" y1="127.80" x2="208.79" y2="127.80" stroke="#5a5a5a" stroke-width="0.9"/>
<rect x="205.54" y="131.20" width="4.30" height="3.00" fill="#9A139A" stroke="#9A139A" stroke-width="0.6"/>
<line x1="205.54" y1="133.00" x2="209.84" y2="133.00" stroke="#4a004a" stroke-width="1.2"/>
<line x1="212.59" y1="109.40" x2="212.59" y2="115.00" stroke="#5a5a5a" stroke-width="0.7" stroke-dasharray="1 1"/>
<line x1="211.49" y1="109.40" x2="213.69" y2="109.40" stroke="#5a5a5a" stroke-width="0.9"/>
<rect x="210.44" y="115.00" width="4.30" height="16.90" fill="#0E5C0E" stroke="#0A2E0A" stroke-width="0.6"/>
<line x1="210.44" y1="126.50" x2="214.74" y2="126.50" stroke="#000" stroke-width="1.2"/>
<line x1="230.28" y1="127.80" x2="230.28" y2="129.00" stroke="#5a5a5a" stroke-width="0.7" stroke-dasharray="1 1"/>
<line x1="229.18" y1="127.80" x2="231.38" y2="127.80" stroke="#5a5a5a" stroke-width="0.9"/>
<line x1="230.28" y1="133.50" x2="230.28" y2="139.30" stroke="#5a5a5a" stroke-width="0.7" stroke-dasharray="1 1"/>
<line x1="229.18" y1="139.30" x2="231.38" y2="139.30" stroke="#5a5a5a" stroke-width="0.9"/>
<rect x="228.13" y="129.00" width="4.30" height="4.50" fill="#9A139A" stroke="#9A139A" stroke-width="0.6"/>
<line x1="228.13" y1="131.20" x2="232.43" y2="131.20" stroke="#4a004a" stroke-width="1.2"/>
<line x1="235.18" y1="102.80" x2="235.18" y2="114.90" stroke="#5a5a5a" stroke-width="0.7" stroke-dasharray="1 1"/>
<line x1="234.08" y1="102.80" x2="236.28" y2="102.80" stroke="#5a5a5a" stroke-width="0.9"/>
<line x1="235.18" y1="128.70" x2="235.18" y2="132.40" stroke="#5a5a5a" stroke-width="0.7" stroke-dasharray="1 1"/>
<line x1="234.08" y1="132.40" x2="236.28" y2="132.40" stroke="#5a5a5a" stroke-width="0.9"/>
<rect x="233.03" y="114.90" width="4.30" height="13.80" fill="#0E5C0E" stroke="#0A2E0A" stroke-width="0.6"/>
<line x1="233.03" y1="126.30" x2="237.33" y2="126.30" stroke="#000" stroke-width="1.2"/>
<line x1="252.87" y1="127.00" x2="252.87" y2="131.20" stroke="#5a5a5a" stroke-width="0.7" stroke-dasharray="1 1"/>
<line x1="251.77" y1="127.00" x2="253.97" y2="127.00" stroke="#5a5a5a" stroke-width="0.9"/>
<line x1="252.87" y1="139.30" x2="252.87" y2="140.50" stroke="#5a5a5a" stroke-width="0.7" stroke-dasharray="1 1"/>
<line x1="251.77" y1="140.50" x2="253.97" y2="140.50" stroke="#5a5a5a" stroke-width="0.9"/>
<rect x="250.72" y="131.20" width="4.30" height="8.10" fill="#DD1FDD" stroke="#9A139A" stroke-width="0.6"/>
<line x1="250.72" y1="134.70" x2="255.02" y2="134.70" stroke="#4a004a" stroke-width="1.2"/>
<line x1="257.77" y1="112.30" x2="257.77" y2="115.80" stroke="#5a5a5a" stroke-width="0.7" stroke-dasharray="1 1"/>
<line x1="256.67" y1="112.30" x2="258.87" y2="112.30" stroke="#5a5a5a" stroke-width="0.9"/>
<rect x="255.62" y="115.80" width="4.30" height="10.20" fill="#0E5C0E" stroke="#0A2E0A" stroke-width="0.6"/>
<line x1="255.62" y1="120.80" x2="259.92" y2="120.80" stroke="#000" stroke-width="1.2"/>
<line x1="275.46" y1="126.00" x2="275.46" y2="129.00" stroke="#5a5a5a" stroke-width="0.7" stroke-dasharray="1 1"/>
<line x1="274.36" y1="126.00" x2="276.56" y2="126.00" stroke="#5a5a5a" stroke-width="0.9"/>
<line x1="275.46" y1="133.50" x2="275.46" y2="135.80" stroke="#5a5a5a" stroke-width="0.7" stroke-dasharray="1 1"/>
<line x1="274.36" y1="135.80" x2="276.56" y2="135.80" stroke="#5a5a5a" stroke-width="0.9"/>
<rect x="273.31" y="129.00" width="4.30" height="4.50" fill="#9A139A" stroke="#9A139A" stroke-width="0.6"/>
<line x1="273.31" y1="131.20" x2="277.61" y2="131.20" stroke="#4a004a" stroke-width="1.2"/>
<line x1="280.36" y1="116.70" x2="280.36" y2="123.20" stroke="#5a5a5a" stroke-width="0.7" stroke-dasharray="1 1"/>
<line x1="279.26" y1="116.70" x2="281.46" y2="116.70" stroke="#5a5a5a" stroke-width="0.9"/>
<line x1="280.36" y1="129.40" x2="280.36" y2="131.70" stroke="#5a5a5a" stroke-width="0.7" stroke-dasharray="1 1"/>
<line x1="279.26" y1="131.70" x2="281.46" y2="131.70" stroke="#5a5a5a" stroke-width="0.9"/>
<rect x="278.21" y="123.20" width="4.30" height="6.20" fill="#0E5C0E" stroke="#0A2E0A" stroke-width="0.6"/>
<line x1="278.21" y1="126.20" x2="282.51" y2="126.20" stroke="#000" stroke-width="1.2"/>
<line x1="298.05" y1="124.30" x2="298.05" y2="125.50" stroke="#5a5a5a" stroke-width="0.7" stroke-dasharray="1 1"/>
<line x1="296.95" y1="124.30" x2="299.15" y2="124.30" stroke="#5a5a5a" stroke-width="0.9"/>
<rect x="295.90" y="125.50" width="4.30" height="8.00" fill="#DD1FDD" stroke="#9A139A" stroke-width="0.6"/>
<line x1="295.90" y1="128.50" x2="300.20" y2="128.50" stroke="#4a004a" stroke-width="1.2"/>
<line x1="302.95" y1="124.30" x2="302.95" y2="126.60" stroke="#5a5a5a" stroke-width="0.7" stroke-dasharray="1 1"/>
<line x1="301.85" y1="124.30" x2="304.05" y2="124.30" stroke="#5a5a5a" stroke-width="0.9"/>
<line x1="302.95" y1="132.40" x2="302.95" y2="135.80" stroke="#5a5a5a" stroke-width="0.7" stroke-dasharray="1 1"/>
<line x1="301.85" y1="135.80" x2="304.05" y2="135.80" stroke="#5a5a5a" stroke-width="0.9"/>
<rect x="300.80" y="126.60" width="4.30" height="5.80" fill="#0E5C0E" stroke="#0A2E0A" stroke-width="0.6"/>
<line x1="300.80" y1="129.00" x2="305.10" y2="129.00" stroke="#000" stroke-width="1.2"/>
<line x1="320.64" y1="113.50" x2="320.64" y2="118.00" stroke="#5a5a5a" stroke-width="0.7" stroke-dasharray="1 1"/>
<line x1="319.54" y1="113.50" x2="321.74" y2="113.50" stroke="#5a5a5a" stroke-width="0.9"/>
<line x1="320.64" y1="124.30" x2="320.64" y2="131.20" stroke="#5a5a5a" stroke-width="0.7" stroke-dasharray="1 1"/>
<line x1="319.54" y1="131.20" x2="321.74" y2="131.20" stroke="#5a5a5a" stroke-width="0.9"/>
<rect x="318.49" y="118.00" width="4.30" height="6.30" fill="#DD1FDD" stroke="#9A139A" stroke-width="0.6"/>
<line x1="318.49" y1="120.80" x2="322.79" y2="120.80" stroke="#4a004a" stroke-width="1.2"/>
<rect x="323.39" y="132.95" width="4.30" height="2.60" fill="#0A2E0A" stroke="#0A2E0A" stroke-width="0.6"/>
<line x1="323.39" y1="134.00" x2="327.69" y2="134.00" stroke="#000" stroke-width="1.2"/>
<line x1="343.23" y1="108.20" x2="343.23" y2="119.70" stroke="#5a5a5a" stroke-width="0.7" stroke-dasharray="1 1"/>
<line x1="342.13" y1="108.20" x2="344.33" y2="108.20" stroke="#5a5a5a" stroke-width="0.9"/>
<rect x="341.08" y="119.70" width="4.30" height="8.10" fill="#DD1FDD" stroke="#9A139A" stroke-width="0.6"/>
<line x1="341.08" y1="120.80" x2="345.38" y2="120.80" stroke="#4a004a" stroke-width="1.2"/>
<rect x="345.98" y="132.40" width="4.30" height="3.40" fill="#0A2E0A" stroke="#0A2E0A" stroke-width="0.6"/>
<line x1="345.98" y1="134.00" x2="350.28" y2="134.00" stroke="#000" stroke-width="1.2"/>
<line x1="365.82" y1="99.00" x2="365.82" y2="114.40" stroke="#5a5a5a" stroke-width="0.7" stroke-dasharray="1 1"/>
<line x1="364.72" y1="99.00" x2="366.92" y2="99.00" stroke="#5a5a5a" stroke-width="0.9"/>
<rect x="363.67" y="114.40" width="4.30" height="13.80" fill="#DD1FDD" stroke="#9A139A" stroke-width="0.6"/>
<line x1="363.67" y1="124.30" x2="367.97" y2="124.30" stroke="#4a004a" stroke-width="1.2"/>
<line x1="370.72" y1="128.20" x2="370.72" y2="130.50" stroke="#5a5a5a" stroke-width="0.7" stroke-dasharray="1 1"/>
<line x1="369.62" y1="128.20" x2="371.82" y2="128.20" stroke="#5a5a5a" stroke-width="0.9"/>
<rect x="368.57" y="130.50" width="4.30" height="4.20" fill="#0A2E0A" stroke="#0A2E0A" stroke-width="0.6"/>
<line x1="368.57" y1="132.40" x2="372.87" y2="132.40" stroke="#000" stroke-width="1.2"/>
<line x1="388.41" y1="118.00" x2="388.41" y2="119.70" stroke="#5a5a5a" stroke-width="0.7" stroke-dasharray="1 1"/>
<line x1="387.31" y1="118.00" x2="389.51" y2="118.00" stroke="#5a5a5a" stroke-width="0.9"/>
<line x1="388.41" y1="127.80" x2="388.41" y2="131.20" stroke="#5a5a5a" stroke-width="0.7" stroke-dasharray="1 1"/>
<line x1="387.31" y1="131.20" x2="389.51" y2="131.20" stroke="#5a5a5a" stroke-width="0.9"/>
<rect x="386.26" y="119.70" width="4.30" height="8.10" fill="#DD1FDD" stroke="#9A139A" stroke-width="0.6"/>
<line x1="386.26" y1="123.20" x2="390.56" y2="123.20" stroke="#4a004a" stroke-width="1.2"/>
<rect x="391.16" y="131.20" width="4.30" height="2.60" fill="#0A2E0A" stroke="#0A2E0A" stroke-width="0.6"/>
<line x1="391.16" y1="132.50" x2="395.46" y2="132.50" stroke="#000" stroke-width="1.2"/>
<line x1="411.00" y1="116.20" x2="411.00" y2="120.80" stroke="#5a5a5a" stroke-width="0.7" stroke-dasharray="1 1"/>
<line x1="409.90" y1="116.20" x2="412.10" y2="116.20" stroke="#5a5a5a" stroke-width="0.9"/>
<line x1="411.00" y1="126.60" x2="411.00" y2="131.20" stroke="#5a5a5a" stroke-width="0.7" stroke-dasharray="1 1"/>
<line x1="409.90" y1="131.20" x2="412.10" y2="131.20" stroke="#5a5a5a" stroke-width="0.9"/>
<rect x="408.85" y="120.80" width="4.30" height="5.80" fill="#DD1FDD" stroke="#9A139A" stroke-width="0.6"/>
<line x1="408.85" y1="123.20" x2="413.15" y2="123.20" stroke="#4a004a" stroke-width="1.2"/>
<rect x="413.75" y="131.50" width="4.30" height="2.60" fill="#0A2E0A" stroke="#0A2E0A" stroke-width="0.6"/>
<line x1="413.75" y1="132.80" x2="418.05" y2="132.80" stroke="#000" stroke-width="1.2"/>
<line x1="433.59" y1="121.50" x2="433.59" y2="127.30" stroke="#5a5a5a" stroke-width="0.7" stroke-dasharray="1 1"/>
<line x1="432.49" y1="121.50" x2="434.69" y2="121.50" stroke="#5a5a5a" stroke-width="0.9"/>
<line x1="433.59" y1="136.50" x2="433.59" y2="140.50" stroke="#5a5a5a" stroke-width="0.7" stroke-dasharray="1 1"/>
<line x1="432.49" y1="140.50" x2="434.69" y2="140.50" stroke="#5a5a5a" stroke-width="0.9"/>
<rect x="431.44" y="127.30" width="4.30" height="9.20" fill="#DD1FDD" stroke="#9A139A" stroke-width="0.6"/>
<line x1="431.44" y1="132.40" x2="435.74" y2="132.40" stroke="#4a004a" stroke-width="1.2"/>
<line x1="438.49" y1="115.80" x2="438.49" y2="118.00" stroke="#5a5a5a" stroke-width="0.7" stroke-dasharray="1 1"/>
<line x1="437.39" y1="115.80" x2="439.59" y2="115.80" stroke="#5a5a5a" stroke-width="0.9"/>
<line x1="438.49" y1="127.30" x2="438.49" y2="131.70" stroke="#5a5a5a" stroke-width="0.7" stroke-dasharray="1 1"/>
<line x1="437.39" y1="131.70" x2="439.59" y2="131.70" stroke="#5a5a5a" stroke-width="0.9"/>
<rect x="436.34" y="118.00" width="4.30" height="9.30" fill="#0E5C0E" stroke="#0A2E0A" stroke-width="0.6"/>
<line x1="436.34" y1="122.00" x2="440.64" y2="122.00" stroke="#000" stroke-width="1.2"/>
<line x1="456.18" y1="107.00" x2="456.18" y2="119.00" stroke="#5a5a5a" stroke-width="0.7" stroke-dasharray="1 1"/>
<line x1="455.08" y1="107.00" x2="457.28" y2="107.00" stroke="#5a5a5a" stroke-width="0.9"/>
<rect x="454.03" y="119.00" width="4.30" height="12.70" fill="#DD1FDD" stroke="#9A139A" stroke-width="0.6"/>
<line x1="454.03" y1="123.20" x2="458.33" y2="123.20" stroke="#4a004a" stroke-width="1.2"/>
<line x1="461.08" y1="126.60" x2="461.08" y2="131.20" stroke="#5a5a5a" stroke-width="0.7" stroke-dasharray="1 1"/>
<line x1="459.98" y1="126.60" x2="462.18" y2="126.60" stroke="#5a5a5a" stroke-width="0.9"/>
<rect x="458.93" y="131.20" width="4.30" height="4.20" fill="#0A2E0A" stroke="#0A2E0A" stroke-width="0.6"/>
<line x1="458.93" y1="133.50" x2="463.23" y2="133.50" stroke="#000" stroke-width="1.2"/>
<line x1="478.77" y1="129.00" x2="478.77" y2="131.20" stroke="#5a5a5a" stroke-width="0.7" stroke-dasharray="1 1"/>
<line x1="477.67" y1="131.20" x2="479.87" y2="131.20" stroke="#5a5a5a" stroke-width="0.9"/>
<rect x="476.62" y="125.00" width="4.30" height="4.00" fill="#9A139A" stroke="#9A139A" stroke-width="0.6"/>
<line x1="476.62" y1="126.60" x2="480.92" y2="126.60" stroke="#4a004a" stroke-width="1.2"/>
<rect x="481.52" y="129.50" width="4.30" height="2.60" fill="#0A2E0A" stroke="#0A2E0A" stroke-width="0.6"/>
<line x1="481.52" y1="130.80" x2="485.82" y2="130.80" stroke="#000" stroke-width="1.2"/>
<line x1="501.36" y1="119.70" x2="501.36" y2="122.00" stroke="#5a5a5a" stroke-width="0.7" stroke-dasharray="1 1"/>
<line x1="500.26" y1="119.70" x2="502.46" y2="119.70" stroke="#5a5a5a" stroke-width="0.9"/>
<line x1="501.36" y1="128.50" x2="501.36" y2="131.20" stroke="#5a5a5a" stroke-width="0.7" stroke-dasharray="1 1"/>
<line x1="500.26" y1="131.20" x2="502.46" y2="131.20" stroke="#5a5a5a" stroke-width="0.9"/>
<rect x="499.21" y="122.00" width="4.30" height="6.50" fill="#DD1FDD" stroke="#9A139A" stroke-width="0.6"/>
<line x1="499.21" y1="125.50" x2="503.51" y2="125.50" stroke="#4a004a" stroke-width="1.2"/>
<rect x="504.11" y="129.90" width="4.30" height="2.60" fill="#0A2E0A" stroke="#0A2E0A" stroke-width="0.6"/>
<line x1="504.11" y1="131.20" x2="508.41" y2="131.20" stroke="#000" stroke-width="1.2"/>
<rect x="456.8" y="84" width="5.6" height="4.8" fill="#DD1FDD"/>
<text x="469.2" y="89.1" font-size="8" fill="#222" stroke="#222" stroke-width="0.2">ET</text>
<rect x="492.2" y="84" width="5.8" height="4.6" fill="#0E5C0E" stroke="#0A2E0A" stroke-width="0.5"/>
<text x="505.2" y="89.1" font-size="8" fill="#222" stroke="#222" stroke-width="0.2">NO</text>
<line x1="77.30" y1="156.4" x2="505.75" y2="156.4" stroke="#666" stroke-width="0.8"/>
<line x1="77.30" y1="156.4" x2="77.30" y2="159.8" stroke="#666" stroke-width="0.8"/>
<text x="77.30" y="170.2" text-anchor="middle" font-size="5.5" fill="#222">10a</text>
<line x1="99.85" y1="156.4" x2="99.85" y2="159.8" stroke="#666" stroke-width="0.8"/>
<text x="99.85" y="170.2" text-anchor="middle" font-size="5.5" fill="#222">1274a</text>
<line x1="122.40" y1="156.4" x2="122.40" y2="159.8" stroke="#666" stroke-width="0.8"/>
<text x="122.40" y="170.2" text-anchor="middle" font-size="5.5" fill="#222">1301</text>
<line x1="144.95" y1="156.4" x2="144.95" y2="159.8" stroke="#666" stroke-width="0.8"/>
<text x="144.95" y="170.2" text-anchor="middle" font-size="5.5" fill="#222">144</text>
<line x1="167.50" y1="156.4" x2="167.50" y2="159.8" stroke="#666" stroke-width="0.8"/>
<text x="167.50" y="170.2" text-anchor="middle" font-size="5.5" fill="#222">144*</text>
<line x1="190.05" y1="156.4" x2="190.05" y2="159.8" stroke="#666" stroke-width="0.8"/>
<text x="190.05" y="170.2" text-anchor="middle" font-size="5.5" fill="#222">148a</text>
<line x1="212.60" y1="156.4" x2="212.60" y2="159.8" stroke="#666" stroke-width="0.8"/>
<text x="212.60" y="170.2" text-anchor="middle" font-size="5.5" fill="#222">150</text>
<line x1="235.15" y1="156.4" x2="235.15" y2="159.8" stroke="#666" stroke-width="0.8"/>
<text x="235.15" y="170.2" text-anchor="middle" font-size="5.5" fill="#222">181c</text>
<line x1="257.70" y1="156.4" x2="257.70" y2="159.8" stroke="#666" stroke-width="0.8"/>
<text x="257.70" y="170.2" text-anchor="middle" font-size="5.5" fill="#222">181c*</text>
<line x1="280.25" y1="156.4" x2="280.25" y2="159.8" stroke="#666" stroke-width="0.8"/>
<text x="280.25" y="170.2" text-anchor="middle" font-size="5.5" fill="#222">182</text>
<line x1="302.80" y1="156.4" x2="302.80" y2="159.8" stroke="#666" stroke-width="0.8"/>
<text x="302.80" y="170.2" text-anchor="middle" font-size="5.5" fill="#222">29a</text>
<line x1="325.35" y1="156.4" x2="325.35" y2="159.8" stroke="#666" stroke-width="0.8"/>
<text x="325.35" y="170.2" text-anchor="middle" font-size="5.5" fill="#222">34a</text>
<line x1="347.90" y1="156.4" x2="347.90" y2="159.8" stroke="#666" stroke-width="0.8"/>
<text x="347.90" y="170.2" text-anchor="middle" font-size="5.5" fill="#222">34b*</text>
<line x1="370.45" y1="156.4" x2="370.45" y2="159.8" stroke="#666" stroke-width="0.8"/>
<text x="370.45" y="170.2" text-anchor="middle" font-size="5.5" fill="#222">424</text>
<line x1="393.00" y1="156.4" x2="393.00" y2="159.8" stroke="#666" stroke-width="0.8"/>
<text x="393.00" y="170.2" text-anchor="middle" font-size="5.5" fill="#222">490 3p</text>
<line x1="415.55" y1="156.4" x2="415.55" y2="159.8" stroke="#666" stroke-width="0.8"/>
<text x="415.55" y="170.2" text-anchor="middle" font-size="5.5" fill="#222">490 5p</text>
<line x1="438.10" y1="156.4" x2="438.10" y2="159.8" stroke="#666" stroke-width="0.8"/>
<text x="438.10" y="170.2" text-anchor="middle" font-size="5.5" fill="#222">551b</text>
<line x1="460.65" y1="156.4" x2="460.65" y2="159.8" stroke="#666" stroke-width="0.8"/>
<text x="460.65" y="170.2" text-anchor="middle" font-size="5.5" fill="#222">886 3p</text>
<line x1="483.20" y1="156.4" x2="483.20" y2="159.8" stroke="#666" stroke-width="0.8"/>
<text x="483.20" y="170.2" text-anchor="middle" font-size="5.5" fill="#222">9</text>
<line x1="505.75" y1="156.4" x2="505.75" y2="159.8" stroke="#666" stroke-width="0.8"/>
<text x="505.75" y="170.2" text-anchor="middle" font-size="5.5" fill="#222">9*</text>
<text x="60.2" y="189.6" font-size="7.4" fill="#111">r</text>
<text x="78.25" y="190" text-anchor="middle" font-size="6.6" font-weight="bold" fill="#222">0.8*</text>
<rect x="69.30" y="191.7" width="17.90" height="24.60" fill="none" stroke="#808080" stroke-width="1"/>
<text x="0" y="0" transform="translate(67.30,193.0) rotate(-90)" text-anchor="middle" font-size="3.4" fill="#444">4</text>
<text x="0" y="0" transform="translate(67.30,200.3) rotate(-90)" text-anchor="middle" font-size="3.4" fill="#444">2</text>
<text x="0" y="0" transform="translate(67.30,207.8) rotate(-90)" text-anchor="middle" font-size="3.4" fill="#444">0</text>
<text x="0" y="0" transform="translate(67.30,214.2) rotate(-90)" text-anchor="middle" font-size="3.4" fill="#444">-2</text>
<text x="69.00" y="220.6" text-anchor="middle" font-size="3.6" fill="#333">-2</text>
<text x="77.20" y="220.6" text-anchor="middle" font-size="3.6" fill="#333">0</text>
<text x="83.30" y="220.6" text-anchor="middle" font-size="3.6" fill="#333">2</text>
<circle cx="77.89" cy="209.17" r="1.1" fill="#0c2e0c"/>
<circle cx="77.35" cy="211.13" r="1.1" fill="#0c2e0c"/>
<circle cx="76.10" cy="212.61" r="1.1" fill="#0c2e0c"/>
<circle cx="75.03" cy="212.61" r="1.1" fill="#0c2e0c"/>
<circle cx="77.89" cy="212.12" r="1.1" fill="#0c2e0c"/>
<circle cx="80.58" cy="200.31" r="1.1" fill="#C81AC8"/>
<circle cx="80.22" cy="202.03" r="1.1" fill="#C81AC8"/>
<circle cx="79.86" cy="203.51" r="1.1" fill="#C81AC8"/>
<circle cx="79.32" cy="205.72" r="1.1" fill="#C81AC8"/>
<circle cx="78.43" cy="207.20" r="1.1" fill="#C81AC8"/>
<circle cx="73.24" cy="210.64" r="1.1" fill="#C81AC8"/>
<circle cx="71.81" cy="211.63" r="1.1" fill="#C81AC8"/>
<circle cx="79.68" cy="204.74" r="1.1" fill="#C81AC8"/>
<text x="100.81" y="190" text-anchor="middle" font-size="6.6" font-weight="bold" fill="#222">0.26</text>
<rect x="91.86" y="191.7" width="17.90" height="24.60" fill="none" stroke="#808080" stroke-width="1"/>
<text x="91.56" y="220.6" text-anchor="middle" font-size="3.6" fill="#333">-2</text>
<text x="99.76" y="220.6" text-anchor="middle" font-size="3.6" fill="#333">0</text>
<text x="105.86" y="220.6" text-anchor="middle" font-size="3.6" fill="#333">2</text>
<circle cx="99.20" cy="200.06" r="1.1" fill="#0c2e0c"/>
<circle cx="102.96" cy="200.31" r="1.1" fill="#0c2e0c"/>
<circle cx="99.38" cy="202.52" r="1.1" fill="#0c2e0c"/>
<circle cx="104.75" cy="205.97" r="1.1" fill="#0c2e0c"/>
<circle cx="101.88" cy="207.69" r="1.1" fill="#0c2e0c"/>
<circle cx="97.23" cy="206.71" r="1.1" fill="#C81AC8"/>
<circle cx="98.12" cy="208.67" r="1.1" fill="#C81AC8"/>
<circle cx="96.69" cy="210.64" r="1.1" fill="#C81AC8"/>
<circle cx="99.38" cy="209.66" r="1.1" fill="#C81AC8"/>
<circle cx="100.81" cy="211.13" r="1.1" fill="#C81AC8"/>
<circle cx="96.16" cy="212.61" r="1.1" fill="#C81AC8"/>
<circle cx="98.66" cy="211.13" r="1.1" fill="#C81AC8"/>
<circle cx="97.59" cy="209.41" r="1.1" fill="#C81AC8"/>
<circle cx="99.91" cy="207.94" r="1.1" fill="#C81AC8"/>
<circle cx="96.87" cy="208.43" r="1.1" fill="#C81AC8"/>
<text x="123.37" y="190" text-anchor="middle" font-size="6.6" font-weight="bold" fill="#222">0.42</text>
<rect x="114.42" y="191.7" width="17.90" height="24.60" fill="none" stroke="#808080" stroke-width="1"/>
<text x="114.12" y="220.6" text-anchor="middle" font-size="3.6" fill="#333">-2</text>
<text x="122.32" y="220.6" text-anchor="middle" font-size="3.6" fill="#333">0</text>
<text x="128.42" y="220.6" text-anchor="middle" font-size="3.6" fill="#333">2</text>
<circle cx="118.72" cy="213.59" r="1.1" fill="#0c2e0c"/>
<circle cx="120.15" cy="211.63" r="1.1" fill="#0c2e0c"/>
<circle cx="121.40" cy="210.40" r="1.1" fill="#0c2e0c"/>
<circle cx="122.83" cy="211.13" r="1.1" fill="#0c2e0c"/>
<circle cx="123.91" cy="212.12" r="1.1" fill="#0c2e0c"/>
<circle cx="125.70" cy="208.67" r="1.1" fill="#0c2e0c"/>
<circle cx="124.26" cy="198.10" r="1.1" fill="#C81AC8"/>
<circle cx="123.91" cy="203.51" r="1.1" fill="#C81AC8"/>
<circle cx="122.83" cy="204.74" r="1.1" fill="#C81AC8"/>
<circle cx="124.80" cy="205.72" r="1.1" fill="#C81AC8"/>
<circle cx="123.37" cy="207.20" r="1.1" fill="#C81AC8"/>
<circle cx="126.23" cy="208.67" r="1.1" fill="#C81AC8"/>
<circle cx="127.67" cy="211.13" r="1.1" fill="#C81AC8"/>
<circle cx="121.94" cy="206.21" r="1.1" fill="#C81AC8"/>
<circle cx="123.73" cy="205.23" r="1.1" fill="#C81AC8"/>
<text x="145.93" y="190" text-anchor="middle" font-size="6.6" font-weight="bold" fill="#222">0.91*</text>
<rect x="136.98" y="191.7" width="17.90" height="24.60" fill="none" stroke="#808080" stroke-width="1"/>
<text x="136.68" y="220.6" text-anchor="middle" font-size="3.6" fill="#333">-2</text>
<text x="144.88" y="220.6" text-anchor="middle" font-size="3.6" fill="#333">0</text>
<text x="150.98" y="220.6" text-anchor="middle" font-size="3.6" fill="#333">2</text>
<circle cx="147.90" cy="203.02" r="1.1" fill="#0c2e0c"/>
<circle cx="149.15" cy="204.25" r="1.1" fill="#0c2e0c"/>
<circle cx="149.69" cy="195.14" r="1.1" fill="#C81AC8"/>
<circle cx="148.79" cy="204.74" r="1.1" fill="#C81AC8"/>
<circle cx="147.36" cy="206.21" r="1.1" fill="#C81AC8"/>
<circle cx="145.93" cy="207.69" r="1.1" fill="#C81AC8"/>
<circle cx="143.96" cy="209.17" r="1.1" fill="#C81AC8"/>
<circle cx="142.17" cy="210.64" r="1.1" fill="#C81AC8"/>
<circle cx="141.28" cy="211.63" r="1.1" fill="#C81AC8"/>
<circle cx="145.57" cy="208.67" r="1.1" fill="#C81AC8"/>
<circle cx="146.82" cy="206.95" r="1.1" fill="#C81AC8"/>
<text x="168.49" y="190" text-anchor="middle" font-size="6.6" font-weight="bold" fill="#222">0.68*</text>
<rect x="159.54" y="191.7" width="17.90" height="24.60" fill="none" stroke="#808080" stroke-width="1"/>
<text x="159.24" y="220.6" text-anchor="middle" font-size="3.6" fill="#333">-2</text>
<text x="167.44" y="220.6" text-anchor="middle" font-size="3.6" fill="#333">0</text>
<text x="173.54" y="220.6" text-anchor="middle" font-size="3.6" fill="#333">2</text>
<circle cx="162.76" cy="211.87" r="1.1" fill="#0c2e0c"/>
<circle cx="165.09" cy="211.13" r="1.1" fill="#0c2e0c"/>
<circle cx="165.98" cy="211.63" r="1.1" fill="#0c2e0c"/>
<circle cx="166.88" cy="211.13" r="1.1" fill="#0c2e0c"/>
<circle cx="169.74" cy="201.05" r="1.1" fill="#C81AC8"/>
<circle cx="167.42" cy="205.23" r="1.1" fill="#C81AC8"/>
<circle cx="163.12" cy="205.23" r="1.1" fill="#C81AC8"/>
<circle cx="170.28" cy="204.25" r="1.1" fill="#C81AC8"/>
<circle cx="168.85" cy="207.20" r="1.1" fill="#C81AC8"/>
<circle cx="167.77" cy="208.67" r="1.1" fill="#C81AC8"/>
<circle cx="166.88" cy="210.64" r="1.1" fill="#C81AC8"/>
<circle cx="169.21" cy="208.18" r="1.1" fill="#C81AC8"/>
<circle cx="168.13" cy="209.41" r="1.1" fill="#C81AC8"/>
<text x="191.05" y="190" text-anchor="middle" font-size="6.6" font-weight="bold" fill="#222">0.57*</text>
<rect x="182.10" y="191.7" width="17.90" height="24.60" fill="none" stroke="#808080" stroke-width="1"/>
<text x="181.80" y="220.6" text-anchor="middle" font-size="3.6" fill="#333">-2</text>
<text x="190.00" y="220.6" text-anchor="middle" font-size="3.6" fill="#333">0</text>
<text x="196.10" y="220.6" text-anchor="middle" font-size="3.6" fill="#333">2</text>
<circle cx="193.20" cy="200.56" r="1.1" fill="#0c2e0c"/>
<circle cx="192.30" cy="202.52" r="1.1" fill="#0c2e0c"/>
<circle cx="191.41" cy="204.25" r="1.1" fill="#0c2e0c"/>
<circle cx="190.33" cy="205.72" r="1.1" fill="#0c2e0c"/>
<circle cx="193.20" cy="208.67" r="1.1" fill="#0c2e0c"/>
<circle cx="193.73" cy="209.66" r="1.1" fill="#0c2e0c"/>
<circle cx="192.30" cy="210.64" r="1.1" fill="#0c2e0c"/>
<circle cx="184.25" cy="212.12" r="1.1" fill="#0c2e0c"/>
<circle cx="183.89" cy="213.59" r="1.1" fill="#0c2e0c"/>
<circle cx="189.98" cy="208.18" r="1.1" fill="#C81AC8"/>
<circle cx="190.33" cy="209.66" r="1.1" fill="#C81AC8"/>
<circle cx="190.87" cy="211.13" r="1.1" fill="#C81AC8"/>
<circle cx="189.44" cy="207.20" r="1.1" fill="#C81AC8"/>
<circle cx="191.41" cy="210.15" r="1.1" fill="#C81AC8"/>
<text x="213.61" y="190" text-anchor="middle" font-size="6.6" font-weight="bold" fill="#222">0.97*</text>
<rect x="204.66" y="191.7" width="17.90" height="24.60" fill="none" stroke="#808080" stroke-width="1"/>
<text x="204.36" y="220.6" text-anchor="middle" font-size="3.6" fill="#333">-2</text>
<text x="212.56" y="220.6" text-anchor="middle" font-size="3.6" fill="#333">0</text>
<text x="218.66" y="220.6" text-anchor="middle" font-size="3.6" fill="#333">2</text>
<circle cx="205.73" cy="210.89" r="1.1" fill="#0c2e0c"/>
<circle cx="208.96" cy="210.89" r="1.1" fill="#0c2e0c"/>
<circle cx="207.52" cy="211.13" r="1.1" fill="#0c2e0c"/>
<circle cx="217.01" cy="200.06" r="1.1" fill="#C81AC8"/>
<circle cx="215.94" cy="203.51" r="1.1" fill="#C81AC8"/>
<circle cx="215.58" cy="205.72" r="1.1" fill="#C81AC8"/>
<circle cx="214.68" cy="207.69" r="1.1" fill="#C81AC8"/>
<circle cx="213.25" cy="209.17" r="1.1" fill="#C81AC8"/>
<circle cx="211.82" cy="210.40" r="1.1" fill="#C81AC8"/>
<circle cx="210.39" cy="210.89" r="1.1" fill="#C81AC8"/>
<circle cx="216.47" cy="201.79" r="1.1" fill="#C81AC8"/>
<text x="236.17" y="190" text-anchor="middle" font-size="6.6" font-weight="bold" fill="#222">0.62*</text>
<rect x="227.22" y="191.7" width="17.90" height="24.60" fill="none" stroke="#808080" stroke-width="1"/>
<text x="226.92" y="220.6" text-anchor="middle" font-size="3.6" fill="#333">-2</text>
<text x="235.12" y="220.6" text-anchor="middle" font-size="3.6" fill="#333">0</text>
<text x="241.22" y="220.6" text-anchor="middle" font-size="3.6" fill="#333">2</text>
<circle cx="232.05" cy="210.64" r="1.1" fill="#0c2e0c"/>
<circle cx="232.95" cy="213.10" r="1.1" fill="#0c2e0c"/>
<circle cx="233.84" cy="211.63" r="1.1" fill="#0c2e0c"/>
<circle cx="234.92" cy="209.66" r="1.1" fill="#0c2e0c"/>
<circle cx="236.71" cy="197.60" r="1.1" fill="#C81AC8"/>
<circle cx="237.24" cy="202.52" r="1.1" fill="#C81AC8"/>
<circle cx="236.17" cy="205.23" r="1.1" fill="#C81AC8"/>
<circle cx="237.60" cy="206.71" r="1.1" fill="#C81AC8"/>
<circle cx="236.71" cy="208.18" r="1.1" fill="#C81AC8"/>
<circle cx="235.27" cy="207.69" r="1.1" fill="#C81AC8"/>
<circle cx="241.00" cy="210.15" r="1.1" fill="#C81AC8"/>
<circle cx="235.81" cy="209.66" r="1.1" fill="#C81AC8"/>
<text x="258.73" y="190" text-anchor="middle" font-size="6.6" font-weight="bold" fill="#222">0.44</text>
<rect x="249.78" y="191.7" width="17.90" height="24.60" fill="none" stroke="#808080" stroke-width="1"/>
<text x="249.48" y="220.6" text-anchor="middle" font-size="3.6" fill="#333">-2</text>
<text x="257.68" y="220.6" text-anchor="middle" font-size="3.6" fill="#333">0</text>
<text x="263.78" y="220.6" text-anchor="middle" font-size="3.6" fill="#333">2</text>
<circle cx="254.43" cy="213.59" r="1.1" fill="#0c2e0c"/>
<circle cx="255.87" cy="212.61" r="1.1" fill="#0c2e0c"/>
<circle cx="257.30" cy="211.13" r="1.1" fill="#0c2e0c"/>
<circle cx="258.73" cy="210.40" r="1.1" fill="#0c2e0c"/>
<circle cx="259.98" cy="210.64" r="1.1" fill="#0c2e0c"/>
<circle cx="258.19" cy="201.05" r="1.1" fill="#C81AC8"/>
<circle cx="258.73" cy="203.02" r="1.1" fill="#C81AC8"/>
<circle cx="259.62" cy="204.74" r="1.1" fill="#C81AC8"/>
<circle cx="259.09" cy="206.21" r="1.1" fill="#C81AC8"/>
<circle cx="260.52" cy="205.72" r="1.1" fill="#C81AC8"/>
<circle cx="263.38" cy="207.69" r="1.1" fill="#C81AC8"/>
<circle cx="259.98" cy="207.69" r="1.1" fill="#C81AC8"/>
<circle cx="258.73" cy="204.49" r="1.1" fill="#C81AC8"/>
<text x="281.29" y="190" text-anchor="middle" font-size="6.6" font-weight="bold" fill="#222">0.82*</text>
<rect x="272.34" y="191.7" width="17.90" height="24.60" fill="none" stroke="#808080" stroke-width="1"/>
<text x="272.04" y="220.6" text-anchor="middle" font-size="3.6" fill="#333">-2</text>
<text x="280.24" y="220.6" text-anchor="middle" font-size="3.6" fill="#333">0</text>
<text x="286.34" y="220.6" text-anchor="middle" font-size="3.6" fill="#333">2</text>
<circle cx="274.13" cy="209.66" r="1.1" fill="#0c2e0c"/>
<circle cx="275.56" cy="210.64" r="1.1" fill="#0c2e0c"/>
<circle cx="276.99" cy="211.13" r="1.1" fill="#0c2e0c"/>
<circle cx="278.43" cy="210.40" r="1.1" fill="#0c2e0c"/>
<circle cx="279.32" cy="209.66" r="1.1" fill="#0c2e0c"/>
<circle cx="281.65" cy="194.65" r="1.1" fill="#C81AC8"/>
<circle cx="283.08" cy="203.51" r="1.1" fill="#C81AC8"/>
<circle cx="281.29" cy="205.72" r="1.1" fill="#C81AC8"/>
<circle cx="282.18" cy="206.71" r="1.1" fill="#C81AC8"/>
<circle cx="283.97" cy="207.69" r="1.1" fill="#C81AC8"/>
<circle cx="279.86" cy="208.18" r="1.1" fill="#C81AC8"/>
<circle cx="280.75" cy="207.20" r="1.1" fill="#C81AC8"/>
<text x="303.85" y="190" text-anchor="middle" font-size="6.6" font-weight="bold" fill="#222">0.47*</text>
<rect x="294.90" y="191.7" width="17.90" height="24.60" fill="none" stroke="#808080" stroke-width="1"/>
<text x="294.60" y="220.6" text-anchor="middle" font-size="3.6" fill="#333">-2</text>
<text x="302.80" y="220.6" text-anchor="middle" font-size="3.6" fill="#333">0</text>
<text x="308.90" y="220.6" text-anchor="middle" font-size="3.6" fill="#333">2</text>
<circle cx="308.68" cy="196.13" r="1.1" fill="#0c2e0c"/>
<circle cx="307.25" cy="199.57" r="1.1" fill="#0c2e0c"/>
<circle cx="308.32" cy="206.71" r="1.1" fill="#0c2e0c"/>
<circle cx="305.46" cy="209.66" r="1.1" fill="#0c2e0c"/>
<circle cx="304.57" cy="208.67" r="1.1" fill="#0c2e0c"/>
<circle cx="306.36" cy="209.41" r="1.1" fill="#0c2e0c"/>
<circle cx="300.27" cy="208.67" r="1.1" fill="#C81AC8"/>
<circle cx="301.70" cy="207.69" r="1.1" fill="#C81AC8"/>
<circle cx="302.60" cy="207.20" r="1.1" fill="#C81AC8"/>
<circle cx="301.34" cy="209.66" r="1.1" fill="#C81AC8"/>
<circle cx="299.73" cy="210.15" r="1.1" fill="#C81AC8"/>
<circle cx="302.24" cy="208.67" r="1.1" fill="#C81AC8"/>
<circle cx="304.03" cy="207.20" r="1.1" fill="#C81AC8"/>
<circle cx="300.81" cy="207.94" r="1.1" fill="#C81AC8"/>
<text x="326.41" y="190" text-anchor="middle" font-size="6.6" font-weight="bold" fill="#222">0.97*</text>
<rect x="317.46" y="191.7" width="17.90" height="24.60" fill="none" stroke="#808080" stroke-width="1"/>
<text x="317.16" y="220.6" text-anchor="middle" font-size="3.6" fill="#333">-2</text>
<text x="325.36" y="220.6" text-anchor="middle" font-size="3.6" fill="#333">0</text>
<text x="331.46" y="220.6" text-anchor="middle" font-size="3.6" fill="#333">2</text>
<circle cx="329.81" cy="197.60" r="1.1" fill="#0c2e0c"/>
<circle cx="328.92" cy="201.79" r="1.1" fill="#0c2e0c"/>
<circle cx="329.45" cy="204.00" r="1.1" fill="#0c2e0c"/>
<circle cx="328.02" cy="205.23" r="1.1" fill="#0c2e0c"/>
<circle cx="327.13" cy="207.20" r="1.1" fill="#0c2e0c"/>
<circle cx="328.56" cy="206.21" r="1.1" fill="#0c2e0c"/>
<circle cx="321.04" cy="211.13" r="1.1" fill="#C81AC8"/>
<circle cx="322.29" cy="210.64" r="1.1" fill="#C81AC8"/>
<circle cx="323.90" cy="210.40" r="1.1" fill="#C81AC8"/>
<circle cx="324.80" cy="209.66" r="1.1" fill="#C81AC8"/>
<circle cx="322.83" cy="211.13" r="1.1" fill="#C81AC8"/>
<circle cx="325.69" cy="209.17" r="1.1" fill="#C81AC8"/>
<text x="348.97" y="190" text-anchor="middle" font-size="6.6" font-weight="bold" fill="#222">0.81*</text>
<rect x="340.02" y="191.7" width="17.90" height="24.60" fill="none" stroke="#808080" stroke-width="1"/>
<text x="339.72" y="220.6" text-anchor="middle" font-size="3.6" fill="#333">-2</text>
<text x="347.92" y="220.6" text-anchor="middle" font-size="3.6" fill="#333">0</text>
<text x="354.02" y="220.6" text-anchor="middle" font-size="3.6" fill="#333">2</text>
<circle cx="352.19" cy="199.57" r="1.1" fill="#0c2e0c"/>
<circle cx="348.97" cy="204.74" r="1.1" fill="#0c2e0c"/>
<circle cx="350.40" cy="204.25" r="1.1" fill="#0c2e0c"/>
<circle cx="351.83" cy="205.23" r="1.1" fill="#0c2e0c"/>
<circle cx="352.73" cy="205.72" r="1.1" fill="#0c2e0c"/>
<circle cx="347.54" cy="207.69" r="1.1" fill="#0c2e0c"/>
<circle cx="349.86" cy="208.18" r="1.1" fill="#0c2e0c"/>
<circle cx="342.88" cy="211.13" r="1.1" fill="#C81AC8"/>
<circle cx="344.32" cy="210.64" r="1.1" fill="#C81AC8"/>
<circle cx="345.75" cy="210.15" r="1.1" fill="#C81AC8"/>
<circle cx="347.00" cy="210.64" r="1.1" fill="#C81AC8"/>
<circle cx="348.43" cy="209.66" r="1.1" fill="#C81AC8"/>
<circle cx="349.86" cy="210.15" r="1.1" fill="#C81AC8"/>
<circle cx="344.67" cy="211.63" r="1.1" fill="#C81AC8"/>
<text x="371.53" y="190" text-anchor="middle" font-size="6.6" font-weight="bold" fill="#222">0.69*</text>
<rect x="362.58" y="191.7" width="17.90" height="24.60" fill="none" stroke="#808080" stroke-width="1"/>
<text x="362.28" y="220.6" text-anchor="middle" font-size="3.6" fill="#333">-2</text>
<text x="370.48" y="220.6" text-anchor="middle" font-size="3.6" fill="#333">0</text>
<text x="376.58" y="220.6" text-anchor="middle" font-size="3.6" fill="#333">2</text>
<circle cx="374.04" cy="196.13" r="1.1" fill="#0c2e0c"/>
<circle cx="368.67" cy="202.52" r="1.1" fill="#0c2e0c"/>
<circle cx="373.86" cy="203.02" r="1.1" fill="#0c2e0c"/>
<circle cx="374.75" cy="205.72" r="1.1" fill="#0c2e0c"/>
<circle cx="373.50" cy="206.71" r="1.1" fill="#0c2e0c"/>
<circle cx="372.07" cy="207.20" r="1.1" fill="#0c2e0c"/>
<circle cx="367.77" cy="209.66" r="1.1" fill="#C81AC8"/>
<circle cx="369.20" cy="208.67" r="1.1" fill="#C81AC8"/>
<circle cx="370.63" cy="208.18" r="1.1" fill="#C81AC8"/>
<circle cx="368.31" cy="210.64" r="1.1" fill="#C81AC8"/>
<circle cx="369.56" cy="210.15" r="1.1" fill="#C81AC8"/>
<circle cx="371.53" cy="207.69" r="1.1" fill="#C81AC8"/>
<text x="394.09" y="190" text-anchor="middle" font-size="6.6" font-weight="bold" fill="#222">0.71*</text>
<rect x="385.14" y="191.7" width="17.90" height="24.60" fill="none" stroke="#808080" stroke-width="1"/>
<text x="384.84" y="220.6" text-anchor="middle" font-size="3.6" fill="#333">-2</text>
<text x="393.04" y="220.6" text-anchor="middle" font-size="3.6" fill="#333">0</text>
<text x="399.14" y="220.6" text-anchor="middle" font-size="3.6" fill="#333">2</text>
<circle cx="399.10" cy="194.90" r="1.1" fill="#0c2e0c"/>
<circle cx="396.95" cy="204.25" r="1.1" fill="#0c2e0c"/>
<circle cx="397.49" cy="205.72" r="1.1" fill="#0c2e0c"/>
<circle cx="396.42" cy="206.21" r="1.1" fill="#0c2e0c"/>
<circle cx="395.52" cy="207.20" r="1.1" fill="#0c2e0c"/>
<circle cx="389.79" cy="210.40" r="1.1" fill="#C81AC8"/>
<circle cx="391.23" cy="209.90" r="1.1" fill="#C81AC8"/>
<circle cx="392.66" cy="209.66" r="1.1" fill="#C81AC8"/>
<circle cx="394.09" cy="209.17" r="1.1" fill="#C81AC8"/>
<circle cx="394.98" cy="208.67" r="1.1" fill="#C81AC8"/>
<circle cx="391.58" cy="210.64" r="1.1" fill="#C81AC8"/>
<circle cx="390.51" cy="210.15" r="1.1" fill="#C81AC8"/>
<text x="416.65" y="190" text-anchor="middle" font-size="6.6" font-weight="bold" fill="#222">0.84*</text>
<rect x="407.70" y="191.7" width="17.90" height="24.60" fill="none" stroke="#808080" stroke-width="1"/>
<text x="407.40" y="220.6" text-anchor="middle" font-size="3.6" fill="#333">-2</text>
<text x="415.60" y="220.6" text-anchor="middle" font-size="3.6" fill="#333">0</text>
<text x="421.70" y="220.6" text-anchor="middle" font-size="3.6" fill="#333">2</text>
<circle cx="421.48" cy="194.90" r="1.1" fill="#0c2e0c"/>
<circle cx="419.51" cy="203.51" r="1.1" fill="#0c2e0c"/>
<circle cx="420.05" cy="205.23" r="1.1" fill="#0c2e0c"/>
<circle cx="418.98" cy="206.21" r="1.1" fill="#0c2e0c"/>
<circle cx="420.41" cy="206.21" r="1.1" fill="#0c2e0c"/>
<circle cx="411.82" cy="210.40" r="1.1" fill="#C81AC8"/>
<circle cx="413.25" cy="209.90" r="1.1" fill="#C81AC8"/>
<circle cx="414.68" cy="209.66" r="1.1" fill="#C81AC8"/>
<circle cx="416.11" cy="209.17" r="1.1" fill="#C81AC8"/>
<circle cx="417.01" cy="208.67" r="1.1" fill="#C81AC8"/>
<circle cx="413.61" cy="210.64" r="1.1" fill="#C81AC8"/>
<text x="439.21" y="190" text-anchor="middle" font-size="6.6" font-weight="bold" fill="#222">0.78*</text>
<rect x="430.26" y="191.7" width="17.90" height="24.60" fill="none" stroke="#808080" stroke-width="1"/>
<text x="429.96" y="220.6" text-anchor="middle" font-size="3.6" fill="#333">-2</text>
<text x="438.16" y="220.6" text-anchor="middle" font-size="3.6" fill="#333">0</text>
<text x="444.26" y="220.6" text-anchor="middle" font-size="3.6" fill="#333">2</text>
<circle cx="435.63" cy="213.59" r="1.1" fill="#0c2e0c"/>
<circle cx="437.96" cy="211.63" r="1.1" fill="#0c2e0c"/>
<circle cx="438.85" cy="210.15" r="1.1" fill="#0c2e0c"/>
<circle cx="439.93" cy="209.17" r="1.1" fill="#0c2e0c"/>
<circle cx="443.15" cy="197.11" r="1.1" fill="#C81AC8"/>
<circle cx="442.79" cy="203.02" r="1.1" fill="#C81AC8"/>
<circle cx="439.93" cy="204.25" r="1.1" fill="#C81AC8"/>
<circle cx="439.39" cy="205.72" r="1.1" fill="#C81AC8"/>
<circle cx="438.49" cy="206.71" r="1.1" fill="#C81AC8"/>
<circle cx="440.28" cy="206.21" r="1.1" fill="#C81AC8"/>
<circle cx="441.36" cy="207.20" r="1.1" fill="#C81AC8"/>
<circle cx="440.64" cy="205.23" r="1.1" fill="#C81AC8"/>
<text x="461.77" y="190" text-anchor="middle" font-size="6.6" font-weight="bold" fill="#222">0.78*</text>
<rect x="452.82" y="191.7" width="17.90" height="24.60" fill="none" stroke="#808080" stroke-width="1"/>
<text x="452.52" y="220.6" text-anchor="middle" font-size="3.6" fill="#333">-2</text>
<text x="460.72" y="220.6" text-anchor="middle" font-size="3.6" fill="#333">0</text>
<text x="466.82" y="220.6" text-anchor="middle" font-size="3.6" fill="#333">2</text>
<circle cx="464.99" cy="199.33" r="1.1" fill="#0c2e0c"/>
<circle cx="467.32" cy="204.25" r="1.1" fill="#0c2e0c"/>
<circle cx="464.45" cy="205.23" r="1.1" fill="#0c2e0c"/>
<circle cx="465.35" cy="206.71" r="1.1" fill="#0c2e0c"/>
<circle cx="458.73" cy="210.40" r="1.1" fill="#C81AC8"/>
<circle cx="460.16" cy="210.64" r="1.1" fill="#C81AC8"/>
<circle cx="461.59" cy="210.15" r="1.1" fill="#C81AC8"/>
<circle cx="459.26" cy="211.13" r="1.1" fill="#C81AC8"/>
<circle cx="461.05" cy="211.13" r="1.1" fill="#C81AC8"/>
<circle cx="464.10" cy="205.72" r="1.1" fill="#C81AC8"/>
<text x="484.33" y="190" text-anchor="middle" font-size="6.6" font-weight="bold" fill="#222">0.53*</text>
<rect x="475.38" y="191.7" width="17.90" height="24.60" fill="none" stroke="#808080" stroke-width="1"/>
<text x="475.08" y="220.6" text-anchor="middle" font-size="3.6" fill="#333">-2</text>
<text x="483.28" y="220.6" text-anchor="middle" font-size="3.6" fill="#333">0</text>
<text x="489.38" y="220.6" text-anchor="middle" font-size="3.6" fill="#333">2</text>
<circle cx="492.03" cy="192.68" r="1.1" fill="#0c2e0c"/>
<circle cx="488.27" cy="202.52" r="1.1" fill="#0c2e0c"/>
<circle cx="488.27" cy="206.21" r="1.1" fill="#0c2e0c"/>
<circle cx="483.61" cy="207.20" r="1.1" fill="#0c2e0c"/>
<circle cx="480.93" cy="208.92" r="1.1" fill="#C81AC8"/>
<circle cx="482.72" cy="209.66" r="1.1" fill="#C81AC8"/>
<circle cx="484.69" cy="208.43" r="1.1" fill="#C81AC8"/>
<circle cx="481.82" cy="209.90" r="1.1" fill="#C81AC8"/>
<circle cx="483.61" cy="210.40" r="1.1" fill="#C81AC8"/>
<text x="506.89" y="190" text-anchor="middle" font-size="6.6" font-weight="bold" fill="#222">0.74*</text>
<rect x="497.94" y="191.7" width="17.90" height="24.60" fill="none" stroke="#808080" stroke-width="1"/>
<text x="497.64" y="220.6" text-anchor="middle" font-size="3.6" fill="#333">-2</text>
<text x="505.84" y="220.6" text-anchor="middle" font-size="3.6" fill="#333">0</text>
<text x="511.94" y="220.6" text-anchor="middle" font-size="3.6" fill="#333">2</text>
<circle cx="514.05" cy="192.68" r="1.1" fill="#0c2e0c"/>
<circle cx="511.19" cy="205.48" r="1.1" fill="#0c2e0c"/>
<circle cx="509.40" cy="206.21" r="1.1" fill="#0c2e0c"/>
<circle cx="506.53" cy="207.20" r="1.1" fill="#0c2e0c"/>
<circle cx="504.74" cy="209.66" r="1.1" fill="#C81AC8"/>
<circle cx="506.53" cy="208.92" r="1.1" fill="#C81AC8"/>
<circle cx="503.85" cy="210.40" r="1.1" fill="#C81AC8"/>
<circle cx="505.64" cy="210.40" r="1.1" fill="#C81AC8"/>
<circle cx="507.61" cy="208.18" r="1.1" fill="#C81AC8"/>
<rect x="66.4" y="261.4" width="185.9" height="110.90000000000003" fill="none" stroke="#b4b4b4" stroke-width="1.5"/>
<line x1="66.4" y1="316.85" x2="252.3" y2="316.85" stroke="#e2e2e2" stroke-width="1.2"/>
<line x1="64.60000000000001" y1="368.20" x2="66.4" y2="368.20" stroke="#9a9a9a" stroke-width="0.8"/>
<text x="0" y="0" transform="translate(61.7,368.20) rotate(-90)" text-anchor="middle" font-size="6" fill="#222">0.0</text>
<line x1="64.60000000000001" y1="347.66" x2="66.4" y2="347.66" stroke="#9a9a9a" stroke-width="0.8"/>
<text x="0" y="0" transform="translate(61.7,347.66) rotate(-90)" text-anchor="middle" font-size="6" fill="#222">0.2</text>
<line x1="64.60000000000001" y1="327.12" x2="66.4" y2="327.12" stroke="#9a9a9a" stroke-width="0.8"/>
<text x="0" y="0" transform="translate(61.7,327.12) rotate(-90)" text-anchor="middle" font-size="6" fill="#222">0.4</text>
<line x1="64.60000000000001" y1="306.58" x2="66.4" y2="306.58" stroke="#9a9a9a" stroke-width="0.8"/>
<text x="0" y="0" transform="translate(61.7,306.58) rotate(-90)" text-anchor="middle" font-size="6" fill="#222">0.6</text>
<line x1="64.60000000000001" y1="286.04" x2="66.4" y2="286.04" stroke="#9a9a9a" stroke-width="0.8"/>
<text x="0" y="0" transform="translate(61.7,286.04) rotate(-90)" text-anchor="middle" font-size="6" fill="#222">0.8</text>
<line x1="64.60000000000001" y1="265.50" x2="66.4" y2="265.50" stroke="#9a9a9a" stroke-width="0.8"/>
<text x="0" y="0" transform="translate(61.7,265.50) rotate(-90)" text-anchor="middle" font-size="6" fill="#222">1.0</text>
<line x1="69.65" y1="372.3" x2="69.65" y2="374.3" stroke="#9a9a9a" stroke-width="0.8"/>
<text x="69.65" y="381.2" text-anchor="middle" font-size="6" fill="#333">0</text>
<line x1="100.45" y1="372.3" x2="100.45" y2="374.3" stroke="#9a9a9a" stroke-width="0.8"/>
<text x="100.45" y="381.2" text-anchor="middle" font-size="6" fill="#333">10</text>
<line x1="131.25" y1="372.3" x2="131.25" y2="374.3" stroke="#9a9a9a" stroke-width="0.8"/>
<text x="131.25" y="381.2" text-anchor="middle" font-size="6" fill="#333">20</text>
<line x1="162.05" y1="372.3" x2="162.05" y2="374.3" stroke="#9a9a9a" stroke-width="0.8"/>
<text x="162.05" y="381.2" text-anchor="middle" font-size="6" fill="#333">30</text>
<line x1="192.85" y1="372.3" x2="192.85" y2="374.3" stroke="#9a9a9a" stroke-width="0.8"/>
<text x="192.85" y="381.2" text-anchor="middle" font-size="6" fill="#333">40</text>
<line x1="223.65" y1="372.3" x2="223.65" y2="374.3" stroke="#9a9a9a" stroke-width="0.8"/>
<text x="223.65" y="381.2" text-anchor="middle" font-size="6" fill="#333">50</text>
<text x="0" y="0" transform="translate(31.8,316) rotate(-90)" text-anchor="middle" font-size="8.2" fill="#222" stroke="#222" stroke-width="0.2">Posterior Probability of ET</text>
<text x="148" y="405" text-anchor="middle" font-size="8.5" fill="#222" stroke="#222" stroke-width="0.25">Sample IDs</text>
<rect x="77.4" y="272.3" width="5.8" height="5" fill="#DD1FDD"/>
<text x="89.7" y="278" font-size="8" fill="#222" stroke="#222" stroke-width="0.2">ET</text>
<rect x="77.4" y="281.8" width="5.8" height="5" fill="#0E5C0E" stroke="#0A2E0A" stroke-width="0.5"/>
<text x="89.7" y="287.9" font-size="8" fill="#222" stroke="#222" stroke-width="0.2">NO</text>
<circle cx="72.73" cy="368.20" r="1.3" fill="#0a260a"/>
<circle cx="75.81" cy="368.20" r="1.3" fill="#0a260a"/>
<circle cx="78.89" cy="367.17" r="1.3" fill="#0a260a"/>
<circle cx="81.97" cy="368.20" r="1.3" fill="#0a260a"/>
<circle cx="85.05" cy="368.20" r="1.3" fill="#0a260a"/>
<circle cx="88.13" cy="351.77" r="1.3" fill="#0a260a"/>
<circle cx="91.21" cy="367.17" r="1.3" fill="#0a260a"/>
<circle cx="94.29" cy="368.20" r="1.3" fill="#0a260a"/>
<circle cx="97.37" cy="368.20" r="1.3" fill="#0a260a"/>
<circle cx="100.45" cy="361.01" r="1.3" fill="#0a260a"/>
<circle cx="103.53" cy="368.20" r="1.3" fill="#0a260a"/>
<circle cx="106.61" cy="364.09" r="1.3" fill="#0a260a"/>
<circle cx="109.69" cy="368.20" r="1.3" fill="#0a260a"/>
<circle cx="112.77" cy="367.17" r="1.3" fill="#0a260a"/>
<circle cx="115.85" cy="368.20" r="1.3" fill="#0a260a"/>
<circle cx="118.93" cy="368.20" r="1.3" fill="#0a260a"/>
<circle cx="122.01" cy="367.17" r="1.3" fill="#0a260a"/>
<circle cx="125.09" cy="368.20" r="1.3" fill="#0a260a"/>
<circle cx="128.17" cy="368.20" r="1.3" fill="#0a260a"/>
<circle cx="131.25" cy="368.20" r="1.3" fill="#0a260a"/>
<circle cx="134.33" cy="311.71" r="1.3" fill="#0a260a"/>
<circle cx="137.41" cy="368.20" r="1.3" fill="#0a260a"/>
<circle cx="140.49" cy="361.01" r="1.3" fill="#0a260a"/>
<circle cx="143.57" cy="368.20" r="1.3" fill="#0a260a"/>
<circle cx="146.65" cy="368.20" r="1.3" fill="#0a260a"/>
<circle cx="149.73" cy="368.20" r="1.3" fill="#0a260a"/>
<circle cx="152.81" cy="368.20" r="1.3" fill="#0a260a"/>
<circle cx="155.89" cy="367.17" r="1.3" fill="#0a260a"/>
<circle cx="158.97" cy="350.74" r="1.3" fill="#0a260a"/>
<circle cx="162.05" cy="361.01" r="1.3" fill="#0a260a"/>
<circle cx="165.13" cy="265.50" r="1.6" fill="#D040C0" opacity="0.5"/><circle cx="165.13" cy="265.50" r="1.1" fill="#84186E"/>
<path d="M166.41,355.17 L168.21,352.12 L170.01,355.17 Z" fill="#D040C0" opacity="0.5"/><path d="M166.91,354.82 L168.21,352.62 L169.51,354.82 Z" fill="#84186E"/>
<path d="M169.49,266.85 L171.29,263.80 L173.09,266.85 Z" fill="#D040C0" opacity="0.5"/><path d="M169.99,266.50 L171.29,264.30 L172.59,266.50 Z" fill="#84186E"/>
<path d="M172.57,266.85 L174.37,263.80 L176.17,266.85 Z" fill="#D040C0" opacity="0.5"/><path d="M173.07,266.50 L174.37,264.30 L175.67,266.50 Z" fill="#84186E"/>
<circle cx="177.45" cy="265.50" r="1.6" fill="#D040C0" opacity="0.5"/><circle cx="177.45" cy="265.50" r="1.1" fill="#84186E"/>
<circle cx="180.53" cy="265.50" r="1.6" fill="#D040C0" opacity="0.5"/><circle cx="180.53" cy="265.50" r="1.1" fill="#84186E"/>
<circle cx="183.61" cy="265.50" r="1.6" fill="#D040C0" opacity="0.5"/><circle cx="183.61" cy="265.50" r="1.1" fill="#84186E"/>
<circle cx="186.69" cy="368.20" r="1.6" fill="#D040C0" opacity="0.5"/><circle cx="186.69" cy="368.20" r="1.1" fill="#84186E"/>
<circle cx="189.77" cy="265.50" r="1.6" fill="#D040C0" opacity="0.5"/><circle cx="189.77" cy="265.50" r="1.1" fill="#84186E"/>
<circle cx="192.85" cy="265.50" r="1.6" fill="#D040C0" opacity="0.5"/><circle cx="192.85" cy="265.50" r="1.1" fill="#84186E"/>
<path d="M194.13,266.85 L195.93,263.80 L197.73,266.85 Z" fill="#D040C0" opacity="0.5"/><path d="M194.63,266.50 L195.93,264.30 L197.23,266.50 Z" fill="#84186E"/>
<circle cx="199.01" cy="265.50" r="1.6" fill="#D040C0" opacity="0.5"/><circle cx="199.01" cy="265.50" r="1.1" fill="#84186E"/>
<path d="M200.29,277.12 L202.09,274.07 L203.89,277.12 Z" fill="#D040C0" opacity="0.5"/><path d="M200.79,276.77 L202.09,274.57 L203.39,276.77 Z" fill="#84186E"/>
<path d="M203.37,267.88 L205.17,264.83 L206.97,267.88 Z" fill="#D040C0" opacity="0.5"/><path d="M203.87,267.53 L205.17,265.33 L206.47,267.53 Z" fill="#84186E"/>
<path d="M206.45,273.01 L208.25,269.96 L210.05,273.01 Z" fill="#D040C0" opacity="0.5"/><path d="M206.95,272.66 L208.25,270.46 L209.55,272.66 Z" fill="#84186E"/>
<circle cx="211.33" cy="265.50" r="1.6" fill="#D040C0" opacity="0.5"/><circle cx="211.33" cy="265.50" r="1.1" fill="#84186E"/>
<circle cx="214.41" cy="265.50" r="1.6" fill="#D040C0" opacity="0.5"/><circle cx="214.41" cy="265.50" r="1.1" fill="#84186E"/>
<path d="M215.69,279.17 L217.49,276.12 L219.29,279.17 Z" fill="#D040C0" opacity="0.5"/><path d="M216.19,278.82 L217.49,276.62 L218.79,278.82 Z" fill="#84186E"/>
<path d="M218.77,267.88 L220.57,264.83 L222.37,267.88 Z" fill="#D040C0" opacity="0.5"/><path d="M219.27,267.53 L220.57,265.33 L221.87,267.53 Z" fill="#84186E"/>
<circle cx="223.65" cy="281.93" r="1.6" fill="#D040C0" opacity="0.5"/><circle cx="223.65" cy="281.93" r="1.1" fill="#84186E"/>
<circle cx="226.73" cy="265.50" r="1.6" fill="#D040C0" opacity="0.5"/><circle cx="226.73" cy="265.50" r="1.1" fill="#84186E"/>
<circle cx="229.81" cy="274.74" r="1.6" fill="#D040C0" opacity="0.5"/><circle cx="229.81" cy="274.74" r="1.1" fill="#84186E"/>
<path d="M231.09,266.85 L232.89,263.80 L234.69,266.85 Z" fill="#D040C0" opacity="0.5"/><path d="M231.59,266.50 L232.89,264.30 L234.19,266.50 Z" fill="#84186E"/>
<path d="M234.17,268.90 L235.97,265.85 L237.77,268.90 Z" fill="#D040C0" opacity="0.5"/><path d="M234.67,268.55 L235.97,266.35 L237.27,268.55 Z" fill="#84186E"/>
<path d="M237.25,267.88 L239.05,264.83 L240.85,267.88 Z" fill="#D040C0" opacity="0.5"/><path d="M237.75,267.53 L239.05,265.33 L240.35,267.53 Z" fill="#84186E"/>
<path d="M240.33,266.85 L242.13,263.80 L243.93,266.85 Z" fill="#D040C0" opacity="0.5"/><path d="M240.83,266.50 L242.13,264.30 L243.43,266.50 Z" fill="#84186E"/>
<path d="M243.41,283.28 L245.21,280.23 L247.01,283.28 Z" fill="#D040C0" opacity="0.5"/><path d="M243.91,282.93 L245.21,280.73 L246.51,282.93 Z" fill="#84186E"/>
<rect x="323.2" y="262.4" width="180.5" height="111.80000000000001" fill="none" stroke="#b4b4b4" stroke-width="1.5"/>
<line x1="323.2" y1="318.65" x2="503.7" y2="318.65" stroke="#e2e2e2" stroke-width="1.2"/>
<line x1="321.4" y1="370.40" x2="323.2" y2="370.40" stroke="#9a9a9a" stroke-width="0.8"/>
<text x="0" y="0" transform="translate(318.5,370.40) rotate(-90)" text-anchor="middle" font-size="6" fill="#222">0.0</text>
<line x1="321.4" y1="349.70" x2="323.2" y2="349.70" stroke="#9a9a9a" stroke-width="0.8"/>
<text x="0" y="0" transform="translate(318.5,349.70) rotate(-90)" text-anchor="middle" font-size="6" fill="#222">0.2</text>
<line x1="321.4" y1="329.00" x2="323.2" y2="329.00" stroke="#9a9a9a" stroke-width="0.8"/>
<text x="0" y="0" transform="translate(318.5,329.00) rotate(-90)" text-anchor="middle" font-size="6" fill="#222">0.4</text>
<line x1="321.4" y1="308.30" x2="323.2" y2="308.30" stroke="#9a9a9a" stroke-width="0.8"/>
<text x="0" y="0" transform="translate(318.5,308.30) rotate(-90)" text-anchor="middle" font-size="6" fill="#222">0.6</text>
<line x1="321.4" y1="287.60" x2="323.2" y2="287.60" stroke="#9a9a9a" stroke-width="0.8"/>
<text x="0" y="0" transform="translate(318.5,287.60) rotate(-90)" text-anchor="middle" font-size="6" fill="#222">0.8</text>
<line x1="321.4" y1="266.90" x2="323.2" y2="266.90" stroke="#9a9a9a" stroke-width="0.8"/>
<text x="0" y="0" transform="translate(318.5,266.90) rotate(-90)" text-anchor="middle" font-size="6" fill="#222">1.0</text>
<line x1="365.05" y1="374.2" x2="365.05" y2="376.2" stroke="#9a9a9a" stroke-width="0.8"/>
<text x="365.05" y="381.2" text-anchor="middle" font-size="6" fill="#333">5</text>
<line x1="408.80" y1="374.2" x2="408.80" y2="376.2" stroke="#9a9a9a" stroke-width="0.8"/>
<text x="408.80" y="381.2" text-anchor="middle" font-size="6" fill="#333">10</text>
<line x1="452.55" y1="374.2" x2="452.55" y2="376.2" stroke="#9a9a9a" stroke-width="0.8"/>
<text x="452.55" y="381.2" text-anchor="middle" font-size="6" fill="#333">15</text>
<line x1="496.30" y1="374.2" x2="496.30" y2="376.2" stroke="#9a9a9a" stroke-width="0.8"/>
<text x="496.30" y="381.2" text-anchor="middle" font-size="6" fill="#333">20</text>
<text x="0" y="0" transform="translate(297.8,319.6) rotate(-90)" text-anchor="middle" font-size="8.2" fill="#222" stroke="#222" stroke-width="0.2">Posterior Probability of ET</text>
<text x="423.5" y="405" text-anchor="middle" font-size="8.5" fill="#222" stroke="#222" stroke-width="0.25">Sample IDs</text>
<rect x="332.4" y="272.3" width="5.8" height="5" fill="#DD1FDD"/>
<text x="344.7" y="278" font-size="8" fill="#222" stroke="#222" stroke-width="0.2">ET</text>
<rect x="332.4" y="281.8" width="5.8" height="5" fill="#0E5C0E" stroke="#0A2E0A" stroke-width="0.5"/>
<text x="344.7" y="287.9" font-size="8" fill="#222" stroke="#222" stroke-width="0.2">NO</text>
<circle cx="330.05" cy="370.40" r="1.3" fill="#0a260a"/>
<circle cx="338.80" cy="368.33" r="1.3" fill="#0a260a"/>
<circle cx="347.55" cy="370.40" r="1.3" fill="#0a260a"/>
<circle cx="356.30" cy="369.78" r="1.3" fill="#0a260a"/>
<circle cx="365.05" cy="370.40" r="1.3" fill="#0a260a"/>
<circle cx="373.80" cy="370.40" r="1.3" fill="#0a260a"/>
<circle cx="382.55" cy="370.40" r="1.3" fill="#0a260a"/>
<circle cx="391.30" cy="366.78" r="1.3" fill="#0a260a"/>
<circle cx="400.05" cy="362.64" r="1.3" fill="#0a260a"/>
<circle cx="408.80" cy="370.40" r="1.3" fill="#0a260a"/>
<path d="M415.75,268.25 L417.55,265.20 L419.35,268.25 Z" fill="#D040C0" opacity="0.5"/><path d="M416.25,267.90 L417.55,265.70 L418.85,267.90 Z" fill="#84186E"/>
<path d="M424.50,268.25 L426.30,265.20 L428.10,268.25 Z" fill="#D040C0" opacity="0.5"/><path d="M425.00,267.90 L426.30,265.70 L427.60,267.90 Z" fill="#84186E"/>
<path d="M433.25,268.25 L435.05,265.20 L436.85,268.25 Z" fill="#D040C0" opacity="0.5"/><path d="M433.75,267.90 L435.05,265.70 L436.35,267.90 Z" fill="#84186E"/>
<circle cx="443.80" cy="266.90" r="1.6" fill="#D040C0" opacity="0.5"/><circle cx="443.80" cy="266.90" r="1.1" fill="#84186E"/>
<circle cx="452.55" cy="266.90" r="1.6" fill="#D040C0" opacity="0.5"/><circle cx="452.55" cy="266.90" r="1.1" fill="#84186E"/>
<path d="M459.50,268.25 L461.30,265.20 L463.10,268.25 Z" fill="#D040C0" opacity="0.5"/><path d="M460.00,267.90 L461.30,265.70 L462.60,267.90 Z" fill="#84186E"/>
<path d="M468.25,268.25 L470.05,265.20 L471.85,268.25 Z" fill="#D040C0" opacity="0.5"/><path d="M468.75,267.90 L470.05,265.70 L471.35,267.90 Z" fill="#84186E"/>
<path d="M477.00,371.75 L478.80,368.70 L480.60,371.75 Z" fill="#D040C0" opacity="0.5"/><path d="M477.50,371.40 L478.80,369.20 L480.10,371.40 Z" fill="#84186E"/>
<path d="M485.75,268.25 L487.55,265.20 L489.35,268.25 Z" fill="#D040C0" opacity="0.5"/><path d="M486.25,267.90 L487.55,265.70 L488.85,267.90 Z" fill="#84186E"/>
<circle cx="496.30" cy="266.90" r="1.6" fill="#D040C0" opacity="0.5"/><circle cx="496.30" cy="266.90" r="1.1" fill="#84186E"/>
</svg></body></html>
